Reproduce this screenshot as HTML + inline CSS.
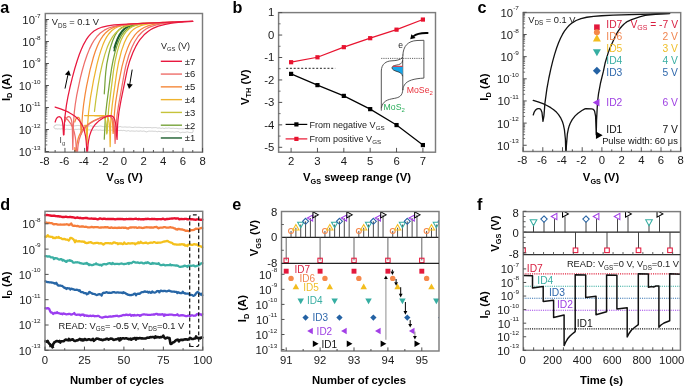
<!DOCTYPE html>
<html><head><meta charset="utf-8"><style>
html,body{margin:0;padding:0;background:#fff;}
svg{display:block;filter:blur(0.4px);}
text{font-family:"Liberation Sans",sans-serif;}
</style></head><body>
<svg width="685" height="388" viewBox="0 0 685 388">
<rect width="685" height="388" fill="#fff"/>
<text transform="translate(0.2,12.5)" font-size="16.2" text-anchor="start" fill="#000" font-weight="bold" >a</text>
<text transform="translate(232.6,12.6)" font-size="16.2" text-anchor="start" fill="#000" font-weight="bold" >b</text>
<text transform="translate(477.5,12.6)" font-size="16.2" text-anchor="start" fill="#000" font-weight="bold" >c</text>
<text transform="translate(0.2,210.1)" font-size="16.2" text-anchor="start" fill="#000" font-weight="bold" >d</text>
<text transform="translate(232.3,210.2)" font-size="16.2" text-anchor="start" fill="#000" font-weight="bold" >e</text>
<text transform="translate(477,210)" font-size="16.2" text-anchor="start" fill="#000" font-weight="bold" >f</text>
<defs><clipPath id="cpa"><rect x="45.3" y="13.5" width="157.2" height="138.7"/></clipPath></defs>
<g clip-path="url(#cpa)">
<path d="M55.13,125.25 L56,125.03 L56.86,124.82 L57.73,124.93 L58.59,124.97 L59.46,124.96 L60.32,125.2 L61.19,125.23 L62.05,125.18 L62.92,125.35 L63.79,125.31 L64.65,125.02 L65.52,125.04 L66.38,125.34 L67.25,125.43 L68.11,125.27 L68.98,125.2 L69.84,125.27 L70.71,125.44 L71.58,125.49 L72.44,125.46 L73.31,125.71 L74.17,125.86 L75.04,125.82 L75.9,125.74 L76.77,125.57 L77.63,125.49 L78.5,125.48 L79.36,125.62 L80.23,125.73 L81.1,125.64 L81.96,125.58 L82.83,125.57 L83.69,125.56 L84.56,125.65 L85.42,125.71 L86.29,125.72 L87.15,126.01 L88.02,126.32 L88.89,126.23 L89.75,125.95 L90.62,125.78 L91.48,125.98 L92.35,126.3 L93.21,126.19 L94.08,126.03 L94.94,126.3 L95.81,126.56 L96.68,126.45 L97.54,126.36 L98.41,126.31 L99.27,126.13 L100.14,126.03 L101,126.13 L101.87,126.32 L102.73,126.52 L103.6,126.66 L104.47,126.67 L105.33,126.64 L106.2,126.57 L107.06,126.54 L107.93,126.71 L108.79,126.7 L109.66,126.59 L110.52,126.63 L111.39,126.73 L112.26,126.95 L113.12,127.21 L113.99,127.07 L114.85,126.52 L115.72,126.31 L116.58,126.55 L117.45,126.84 L118.31,127 L119.18,126.78 L120.05,126.5 L120.91,126.72 L121.78,127.04 L122.64,127.1 L123.51,127.08 L124.37,126.98 L125.24,126.96 L126.1,127.07 L126.97,127.15 L127.83,127.15 L128.7,127.07 L129.57,127.04 L130.43,127.16 L131.3,127.32 L132.16,127.51 L133.03,127.54 L133.89,127.35 L134.76,127.16 L135.62,127.18 L136.49,127.34 L137.36,127.36 L138.22,127.31 L139.09,127.31 L139.95,127.37 L140.82,127.47 L141.68,127.55 L142.55,127.7 L143.41,127.74 L144.28,127.58 L145.15,127.43 L146.01,127.58 L146.88,127.67 L147.74,127.51 L148.61,127.53 L149.47,127.54 L150.34,127.5 L151.2,127.74 L152.07,127.86 L152.94,127.73 L153.8,127.67 L154.67,127.63 L155.53,127.59 L156.4,127.69 L157.26,127.99 L158.13,128.09 L158.99,127.91 L159.86,127.95 L160.73,128.33 L161.59,128.32 L162.46,128 L163.32,128.27 L164.19,128.52 L165.05,128.22 L165.92,128.04 L166.78,128.2 L167.65,128.19 L168.52,127.99 L169.38,128.02 L170.25,128.33 L171.11,128.43 L171.98,128.32 L172.84,128.28 L173.71,128.28 L174.57,128.43 L175.44,128.48 L176.3,128.4 L177.17,128.51 L178.04,128.7 L178.9,128.77 L179.77,128.71 L180.63,128.64 L181.5,128.67 L182.36,128.75 L183.23,128.79 L184.09,128.77 L184.96,128.48 L185.83,128.35 L186.69,128.89 L187.56,129.27 L188.42,129.04 L189.29,128.82 L190.15,128.79 L191.02,128.82 L191.88,128.77 L192.75,128.71 L193.2,130.8 L192.75,132.48 L191.88,132.62 L191.02,132.56 L190.15,132.55 L189.29,132.54 L188.42,132.26 L187.56,131.95 L186.69,132.03 L185.83,132.27 L184.96,132.38 L184.09,132.43 L183.23,132.31 L182.36,132.29 L181.5,132.49 L180.63,132.72 L179.77,132.56 L178.9,131.85 L178.04,131.57 L177.17,131.72 L176.3,131.74 L175.44,131.92 L174.57,132.13 L173.71,132 L172.84,131.82 L171.98,131.92 L171.11,131.98 L170.25,131.84 L169.38,131.65 L168.52,131.62 L167.65,131.57 L166.78,131.54 L165.92,131.7 L165.05,131.71 L164.19,131.86 L163.32,132.04 L162.46,131.94 L161.59,131.75 L160.73,131.63 L159.86,131.55 L158.99,131.3 L158.13,131.43 L157.26,131.77 L156.4,131.51 L155.53,131.24 L154.67,131.29 L153.8,131.3 L152.94,131.22 L152.07,131.14 L151.2,131.17 L150.34,131.2 L149.47,131.14 L148.61,131.18 L147.74,131.47 L146.88,131.86 L146.01,131.84 L145.15,131.44 L144.28,131.16 L143.41,131.06 L142.55,131.24 L141.68,131.18 L140.82,130.92 L139.95,131.08 L139.09,131.18 L138.22,131.2 L137.36,131.1 L136.49,130.93 L135.62,131.11 L134.76,131.18 L133.89,131.1 L133.03,131.08 L132.16,130.97 L131.3,130.95 L130.43,131.16 L129.57,131.07 L128.7,130.67 L127.83,130.72 L126.97,131.04 L126.1,131.01 L125.24,130.78 L124.37,130.5 L123.51,130.39 L122.64,130.61 L121.78,130.47 L120.91,130.3 L120.05,130.56 L119.18,130.54 L118.31,130.45 L117.45,130.56 L116.58,130.58 L115.72,130.53 L114.85,130.6 L113.99,130.49 L113.12,130.18 L112.26,130.18 L111.39,130.17 L110.52,130.05 L109.66,130.23 L108.79,130.35 L107.93,130.25 L107.06,130.04 L106.2,129.93 L105.33,130.17 L104.47,130.28 L103.6,130.25 L102.73,130.39 L101.87,130.35 L101,130.14 L100.14,130.02 L99.27,130.09 L98.41,130.23 L97.54,130.09 L96.68,129.9 L95.81,130 L94.94,130.08 L94.08,130.1 L93.21,130.33 L92.35,130.2 L91.48,129.8 L90.62,129.83 L89.75,129.93 L88.89,129.91 L88.02,129.8 L87.15,129.7 L86.29,129.91 L85.42,130.07 L84.56,129.93 L83.69,129.56 L82.83,129.47 L81.96,129.83 L81.1,129.79 L80.23,129.46 L79.36,129.24 L78.5,129.2 L77.63,129.33 L76.77,129.42 L75.9,129.36 L75.04,129.32 L74.17,129.43 L73.31,129.38 L72.44,129.27 L71.58,129.28 L70.71,129.37 L69.84,129.51 L68.98,129.4 L68.11,129.27 L67.25,129.26 L66.38,129.15 L65.52,129.38 L64.65,129.7 L63.79,129.44 L62.92,129 L62.05,128.81 L61.19,128.9 L60.32,129.05 L59.46,128.86 L58.59,128.85 L57.73,129.02 L56.86,128.82 L56,128.8 L55.13,128.94 L53.6,127 L55.13,125.25" fill="none" stroke="#b5b5b5" stroke-width="0.65" stroke-linejoin="round" stroke-linecap="round" />
<path d="M114.11,48.06 L115.58,43.34 L117.55,38.3 L119.52,34.46 L121.97,30.98 L124.43,28.58 L126.89,26.94 L129.84,25.64 L133.77,24.59" fill="none" stroke="#1c5e2e" stroke-width="1.5" stroke-linejoin="round" stroke-linecap="round" />
<path d="M114.11,50.8 L115.58,45.62 L117.55,40.05 L119.52,35.78 L121.97,31.88 L124.43,29.19 L126.89,27.34 L129.84,25.88 L133.77,24.72" fill="none" stroke="#1c5e2e" stroke-width="1.5" stroke-linejoin="round" stroke-linecap="round" />
<path d="M104.28,93.81 L105.26,78.17 L105.75,72.26 L106.74,64.08 L108.7,54.39 L110.67,46.68 L112.64,40.7 L115.09,35.21 L117.06,32.07 L119.03,29.77 L121.48,27.75 L124.43,26.18 L127.38,25.19 L131.31,24.4 L136.23,23.84 L143.6,23.34" fill="none" stroke="#77a33a" stroke-width="1.25" stroke-linejoin="round" stroke-linecap="round" />
<path d="M104.28,139.18 L105.26,119.1 L105.75,113.01 L106.74,104 L110.18,77.93 L111.65,67.93 L113.13,60.15 L115.09,51.85 L117.06,45.33 L119.03,40.24 L121.48,35.47 L123.94,32.03 L126.89,29.16 L129.84,27.23 L133.77,25.59 L138.19,24.5 L143.6,23.72" fill="none" stroke="#77a33a" stroke-width="1.25" stroke-linejoin="round" stroke-linecap="round" />
<path d="M94.45,111.4 L95.92,99.54 L97.89,86.29 L99.86,75.24 L102.31,63.82 L104.77,54.64 L107.23,47.37 L109.69,41.7 L112.64,36.57 L115.58,32.86 L118.53,30.2 L121.97,28.02 L125.91,26.37 L130.33,25.19 L136.23,24.23 L143.11,23.56 L153.43,22.93" fill="none" stroke="#c6c33a" stroke-width="1.25" stroke-linejoin="round" stroke-linecap="round" />
<path d="M94.45,115.57 L101.33,115.79 L103.3,116.43 L104.28,117.31 L105.26,119.26 L105.75,121.19 L106.25,124.72 L106.74,133.96 L107.23,132.22 L107.72,120.36 L108.7,108.67 L113.62,69.6 L115.09,61.18 L117.06,52.44 L119.02,45.6 L120.99,40.3 L123.45,35.37 L125.91,31.85 L128.85,28.94 L131.8,27.02 L135.74,25.4 L140.16,24.34 L145.57,23.59 L153.43,22.97" fill="none" stroke="#c6c33a" stroke-width="1.25" stroke-linejoin="round" stroke-linecap="round" />
<path d="M84.62,125.91 L85.11,125.2 L85.6,125.64 L86.09,127.65 L86.59,133.38 L87.08,144.32 L87.57,125.53 L88.55,112.48 L90.52,97.36 L93.47,80.59 L96.91,64.7 L98.87,57.11 L100.84,50.59 L102.81,45.1 L104.77,40.57 L106.74,36.9 L108.7,33.98 L111.65,30.71 L114.6,28.47 L118.53,26.56 L122.96,25.3 L127.87,24.49 L134.75,23.84 L163.26,22.43" fill="none" stroke="#efb32e" stroke-width="1.25" stroke-linejoin="round" stroke-linecap="round" />
<path d="M84.62,115.56 L103.3,115.67 L105.75,116.11 L107.23,117.08 L108.21,118.73 L108.7,120.29 L109.19,123 L109.69,128.8 L110.18,146.61 L110.67,123.44 L111.16,115.64 L112.14,105.64 L113.62,94.3 L116.57,73.68 L118.53,62.51 L121.48,50.88 L124.43,42.53 L126.89,37.47 L129.84,33.07 L131.31,31.4 L133.28,29.59 L135.24,28.17 L137.21,27.05 L141.63,25.31 L147.04,24.08 L153.92,23.21 L163.26,22.54" fill="none" stroke="#efb32e" stroke-width="1.25" stroke-linejoin="round" stroke-linecap="round" />
<path d="M74.79,121.95 L75.77,119.21 L76.76,117.82 L77.74,117.27 L78.23,117.29 L78.72,117.54 L79.21,118.12 L79.7,119.16 L80.2,121.01 L80.69,124.57 L81.18,134.19 L81.67,130.94 L82.16,119.43 L82.65,113.06 L83.64,104.24 L85.11,94.33 L86.59,86.02 L90.03,69.8 L93.47,56.98 L95.43,51.02 L97.4,45.99 L99.36,41.78 L101.33,38.31 L103.3,35.47 L105.75,32.66 L109.19,29.81 L113.13,27.66 L117.55,26.14 L122.96,25.03 L128.85,24.31 L137.21,23.69 L173.09,22.01" fill="none" stroke="#f5883a" stroke-width="1.25" stroke-linejoin="round" stroke-linecap="round" />
<path d="M74.79,147.63 L75.28,164.7 L76.26,148.75 L76.76,144.88 L78.23,138.25 L79.21,135.51 L80.69,132.46 L82.16,130.16 L83.64,128.3 L85.6,126.29 L88.06,124.24 L91.01,122.26 L93.96,120.62 L100.84,117.63 L104.77,116.3 L107.72,115.65 L108.7,115.62 L109.69,115.84 L110.67,116.55 L111.65,118.38 L112.14,120.28 L112.64,123.84 L113.13,133.38 L113.62,129.29 L114.11,117.91 L114.6,111.51 L115.58,102.6 L118.53,83.96 L121.97,66.62 L124.92,55.64 L127.87,47.38 L129.35,44.03 L131.31,40.25 L134.75,35.15 L137.7,31.95 L140.65,29.57 L144.09,27.53 L148.02,25.89 L152.45,24.64 L157.85,23.64 L164.24,22.88 L173.09,22.2" fill="none" stroke="#f5883a" stroke-width="1.25" stroke-linejoin="round" stroke-linecap="round" />
<path d="M64.96,121.87 L65.45,120.24 L66.43,118.22 L67.42,117.11 L68.4,116.6 L69.38,116.65 L70.37,117.46 L71.35,119.77 L71.84,122.23 L72.33,127.14 L72.82,149.55 L73.32,126.16 L74.3,112.2 L75.28,104.26 L76.76,95.17 L80.2,78.6 L82.16,70.74 L84.62,62.18 L87.08,54.93 L89.53,48.87 L91.99,43.87 L94.45,39.8 L97.4,35.94 L100.35,33 L104.28,30.16 L108.7,28 L114.11,26.34 L120.99,25.09 L128.36,24.31 L138.68,23.61 L182.92,21.59" fill="none" stroke="#ee6e6a" stroke-width="1.25" stroke-linejoin="round" stroke-linecap="round" />
<path d="M64.96,117.26 L68.4,120.56 L70.86,123.88 L72.82,127.76 L74.3,132.25 L75.28,137.13 L75.77,141 L76.26,147.63 L76.76,164.7 L77.25,154.95 L77.74,148.33 L78.23,144.45 L79.21,139.57 L80.69,135.08 L82.65,131.21 L85.6,127.33 L89.53,123.82 L93.96,120.99 L99.86,118.21 L102.81,117.15 L105.75,116.37 L107.72,116.13 L109.19,116.22 L110.67,116.77 L111.65,117.6 L112.64,119.15 L113.13,120.41 L114.11,125.11 L114.6,130.51 L115.09,143.43 L116.08,124.76 L117.06,114.97 L118.53,105.41 L124.43,72.45 L125.91,65.34 L128.85,55.25 L131.8,47.48 L134.75,41.49 L138.19,36.27 L141.63,32.46 L143.6,30.77 L146.06,29.04 L148.51,27.66 L150.97,26.56 L156.38,24.82 L163.26,23.48 L171.62,22.53 L182.92,21.73" fill="none" stroke="#ee6e6a" stroke-width="1.25" stroke-linejoin="round" stroke-linecap="round" />
<path d="M55.13,122 L56.11,119.22 L56.6,118.37 L57.59,117.28 L58.57,116.77 L59.55,116.74 L60.54,117.29 L61.03,117.86 L62.01,120.07 L62.5,122.18 L62.99,125.9 L63.49,134.98 L63.98,134.7 L64.47,122.71 L64.96,116.56 L66.43,105.16 L67.91,96.98 L69.87,87.77 L72.33,77.6 L74.79,68.53 L77.25,60.46 L79.21,54.76 L81.18,49.73 L83.64,44.35 L86.09,39.95 L88.55,36.41 L91.01,33.62 L93.96,31.07 L97.89,28.72 L102.31,27.04 L107.72,25.81 L114.11,24.98 L131.8,23.83 L192.75,21.16" fill="none" stroke="#e8183e" stroke-width="1.25" stroke-linejoin="round" stroke-linecap="round" />
<path d="M55.13,107.05 L60.54,108.82 L64.96,110.56 L68.89,112.43 L72.33,114.44 L75.28,116.57 L77.74,118.8 L79.7,121.06 L81.67,124.02 L83.15,127.06 L84.13,129.81 L85.6,136.43 L86.09,140.31 L86.59,146.93 L87.08,164.7 L87.57,151.3 L88.06,144.68 L88.55,140.8 L89.53,135.92 L91.01,131.43 L92.98,127.56 L95.43,124.24 L98.38,121.36 L102.81,118.29 L105.26,117.03 L107.72,116.11 L109.19,115.78 L110.67,115.72 L112.14,116.12 L113.13,116.82 L114.11,118.19 L114.6,119.29 L115.58,123.3 L116.08,127.2 L116.57,135.34 L117.06,139.37 L117.55,125.86 L118.04,119.57 L119.02,111.51 L120.99,100.39 L127.38,69.18 L129.35,62.06 L132.79,52.78 L136.23,45.6 L138.19,42.27 L140.16,39.4 L144.09,34.82 L148.02,31.44 L150.48,29.79 L152.94,28.42 L158.34,26.17 L164.24,24.54 L171.62,23.23 L180.46,22.24 L192.75,21.36" fill="none" stroke="#e8183e" stroke-width="1.25" stroke-linejoin="round" stroke-linecap="round" />
</g>
<rect x="45.3" y="13.5" width="157.2" height="138.7" fill="none" stroke="#7c7c7c" stroke-width="1.45"/>
<line x1="45.3" y1="152.2" x2="45.3" y2="147.9" stroke="#444" stroke-width="0.9" />
<line x1="64.96" y1="152.2" x2="64.96" y2="147.9" stroke="#444" stroke-width="0.9" />
<line x1="84.62" y1="152.2" x2="84.62" y2="147.9" stroke="#444" stroke-width="0.9" />
<line x1="104.28" y1="152.2" x2="104.28" y2="147.9" stroke="#444" stroke-width="0.9" />
<line x1="123.94" y1="152.2" x2="123.94" y2="147.9" stroke="#444" stroke-width="0.9" />
<line x1="143.6" y1="152.2" x2="143.6" y2="147.9" stroke="#444" stroke-width="0.9" />
<line x1="163.26" y1="152.2" x2="163.26" y2="147.9" stroke="#444" stroke-width="0.9" />
<line x1="182.92" y1="152.2" x2="182.92" y2="147.9" stroke="#444" stroke-width="0.9" />
<line x1="202.58" y1="152.2" x2="202.58" y2="147.9" stroke="#444" stroke-width="0.9" />
<line x1="55.13" y1="152.2" x2="55.13" y2="150" stroke="#444" stroke-width="0.9" />
<line x1="74.79" y1="152.2" x2="74.79" y2="150" stroke="#444" stroke-width="0.9" />
<line x1="94.45" y1="152.2" x2="94.45" y2="150" stroke="#444" stroke-width="0.9" />
<line x1="114.11" y1="152.2" x2="114.11" y2="150" stroke="#444" stroke-width="0.9" />
<line x1="133.77" y1="152.2" x2="133.77" y2="150" stroke="#444" stroke-width="0.9" />
<line x1="153.43" y1="152.2" x2="153.43" y2="150" stroke="#444" stroke-width="0.9" />
<line x1="173.09" y1="152.2" x2="173.09" y2="150" stroke="#444" stroke-width="0.9" />
<line x1="192.75" y1="152.2" x2="192.75" y2="150" stroke="#444" stroke-width="0.9" />
<text transform="translate(44.5,164.6) scale(1.08,1)" font-size="10.5" text-anchor="middle" fill="#1a1a1a" font-weight="normal" >-8</text>
<text transform="translate(64.16,164.6) scale(1.08,1)" font-size="10.5" text-anchor="middle" fill="#1a1a1a" font-weight="normal" >-6</text>
<text transform="translate(83.82,164.6) scale(1.08,1)" font-size="10.5" text-anchor="middle" fill="#1a1a1a" font-weight="normal" >-4</text>
<text transform="translate(103.48,164.6) scale(1.08,1)" font-size="10.5" text-anchor="middle" fill="#1a1a1a" font-weight="normal" >-2</text>
<text transform="translate(123.94,164.6) scale(1.08,1)" font-size="10.5" text-anchor="middle" fill="#1a1a1a" font-weight="normal" >0</text>
<text transform="translate(143.6,164.6) scale(1.08,1)" font-size="10.5" text-anchor="middle" fill="#1a1a1a" font-weight="normal" >2</text>
<text transform="translate(163.26,164.6) scale(1.08,1)" font-size="10.5" text-anchor="middle" fill="#1a1a1a" font-weight="normal" >4</text>
<text transform="translate(182.92,164.6) scale(1.08,1)" font-size="10.5" text-anchor="middle" fill="#1a1a1a" font-weight="normal" >6</text>
<text transform="translate(202.58,164.6) scale(1.08,1)" font-size="10.5" text-anchor="middle" fill="#1a1a1a" font-weight="normal" >8</text>
<line x1="45.3" y1="151.5" x2="48.9" y2="151.5" stroke="#505050" stroke-width="1" />
<line x1="45.3" y1="144.88" x2="47.3" y2="144.88" stroke="#505050" stroke-width="0.8" />
<line x1="45.3" y1="141" x2="47.3" y2="141" stroke="#505050" stroke-width="0.8" />
<line x1="45.3" y1="138.25" x2="47.3" y2="138.25" stroke="#505050" stroke-width="0.8" />
<line x1="45.3" y1="136.12" x2="47.3" y2="136.12" stroke="#505050" stroke-width="0.8" />
<line x1="45.3" y1="134.38" x2="47.3" y2="134.38" stroke="#505050" stroke-width="0.8" />
<line x1="45.3" y1="132.91" x2="47.3" y2="132.91" stroke="#505050" stroke-width="0.8" />
<line x1="45.3" y1="131.63" x2="47.3" y2="131.63" stroke="#505050" stroke-width="0.8" />
<line x1="45.3" y1="130.51" x2="47.3" y2="130.51" stroke="#505050" stroke-width="0.8" />
<text transform="translate(40.6,155.9) scale(1.08,1)" font-size="10.5" text-anchor="end" fill="#1a1a1a">10<tspan font-size="5.9" dy="-6.4">-13</tspan></text>
<line x1="45.3" y1="129.5" x2="48.9" y2="129.5" stroke="#505050" stroke-width="1" />
<line x1="45.3" y1="122.88" x2="47.3" y2="122.88" stroke="#505050" stroke-width="0.8" />
<line x1="45.3" y1="119" x2="47.3" y2="119" stroke="#505050" stroke-width="0.8" />
<line x1="45.3" y1="116.25" x2="47.3" y2="116.25" stroke="#505050" stroke-width="0.8" />
<line x1="45.3" y1="114.12" x2="47.3" y2="114.12" stroke="#505050" stroke-width="0.8" />
<line x1="45.3" y1="112.38" x2="47.3" y2="112.38" stroke="#505050" stroke-width="0.8" />
<line x1="45.3" y1="110.91" x2="47.3" y2="110.91" stroke="#505050" stroke-width="0.8" />
<line x1="45.3" y1="109.63" x2="47.3" y2="109.63" stroke="#505050" stroke-width="0.8" />
<line x1="45.3" y1="108.51" x2="47.3" y2="108.51" stroke="#505050" stroke-width="0.8" />
<text transform="translate(40.6,133.9) scale(1.08,1)" font-size="10.5" text-anchor="end" fill="#1a1a1a">10<tspan font-size="5.9" dy="-6.4">-12</tspan></text>
<line x1="45.3" y1="107.5" x2="48.9" y2="107.5" stroke="#505050" stroke-width="1" />
<line x1="45.3" y1="100.88" x2="47.3" y2="100.88" stroke="#505050" stroke-width="0.8" />
<line x1="45.3" y1="97" x2="47.3" y2="97" stroke="#505050" stroke-width="0.8" />
<line x1="45.3" y1="94.25" x2="47.3" y2="94.25" stroke="#505050" stroke-width="0.8" />
<line x1="45.3" y1="92.12" x2="47.3" y2="92.12" stroke="#505050" stroke-width="0.8" />
<line x1="45.3" y1="90.38" x2="47.3" y2="90.38" stroke="#505050" stroke-width="0.8" />
<line x1="45.3" y1="88.91" x2="47.3" y2="88.91" stroke="#505050" stroke-width="0.8" />
<line x1="45.3" y1="87.63" x2="47.3" y2="87.63" stroke="#505050" stroke-width="0.8" />
<line x1="45.3" y1="86.51" x2="47.3" y2="86.51" stroke="#505050" stroke-width="0.8" />
<text transform="translate(40.6,111.9) scale(1.08,1)" font-size="10.5" text-anchor="end" fill="#1a1a1a">10<tspan font-size="5.9" dy="-6.4">-11</tspan></text>
<line x1="45.3" y1="85.5" x2="48.9" y2="85.5" stroke="#505050" stroke-width="1" />
<line x1="45.3" y1="78.88" x2="47.3" y2="78.88" stroke="#505050" stroke-width="0.8" />
<line x1="45.3" y1="75" x2="47.3" y2="75" stroke="#505050" stroke-width="0.8" />
<line x1="45.3" y1="72.25" x2="47.3" y2="72.25" stroke="#505050" stroke-width="0.8" />
<line x1="45.3" y1="70.12" x2="47.3" y2="70.12" stroke="#505050" stroke-width="0.8" />
<line x1="45.3" y1="68.38" x2="47.3" y2="68.38" stroke="#505050" stroke-width="0.8" />
<line x1="45.3" y1="66.91" x2="47.3" y2="66.91" stroke="#505050" stroke-width="0.8" />
<line x1="45.3" y1="65.63" x2="47.3" y2="65.63" stroke="#505050" stroke-width="0.8" />
<line x1="45.3" y1="64.51" x2="47.3" y2="64.51" stroke="#505050" stroke-width="0.8" />
<text transform="translate(40.6,89.9) scale(1.08,1)" font-size="10.5" text-anchor="end" fill="#1a1a1a">10<tspan font-size="5.9" dy="-6.4">-10</tspan></text>
<line x1="45.3" y1="63.5" x2="48.9" y2="63.5" stroke="#505050" stroke-width="1" />
<line x1="45.3" y1="56.88" x2="47.3" y2="56.88" stroke="#505050" stroke-width="0.8" />
<line x1="45.3" y1="53" x2="47.3" y2="53" stroke="#505050" stroke-width="0.8" />
<line x1="45.3" y1="50.25" x2="47.3" y2="50.25" stroke="#505050" stroke-width="0.8" />
<line x1="45.3" y1="48.12" x2="47.3" y2="48.12" stroke="#505050" stroke-width="0.8" />
<line x1="45.3" y1="46.38" x2="47.3" y2="46.38" stroke="#505050" stroke-width="0.8" />
<line x1="45.3" y1="44.91" x2="47.3" y2="44.91" stroke="#505050" stroke-width="0.8" />
<line x1="45.3" y1="43.63" x2="47.3" y2="43.63" stroke="#505050" stroke-width="0.8" />
<line x1="45.3" y1="42.51" x2="47.3" y2="42.51" stroke="#505050" stroke-width="0.8" />
<text transform="translate(40.6,67.9) scale(1.08,1)" font-size="10.5" text-anchor="end" fill="#1a1a1a">10<tspan font-size="5.9" dy="-6.4">-9</tspan></text>
<line x1="45.3" y1="41.5" x2="48.9" y2="41.5" stroke="#505050" stroke-width="1" />
<line x1="45.3" y1="34.88" x2="47.3" y2="34.88" stroke="#505050" stroke-width="0.8" />
<line x1="45.3" y1="31" x2="47.3" y2="31" stroke="#505050" stroke-width="0.8" />
<line x1="45.3" y1="28.25" x2="47.3" y2="28.25" stroke="#505050" stroke-width="0.8" />
<line x1="45.3" y1="26.12" x2="47.3" y2="26.12" stroke="#505050" stroke-width="0.8" />
<line x1="45.3" y1="24.38" x2="47.3" y2="24.38" stroke="#505050" stroke-width="0.8" />
<line x1="45.3" y1="22.91" x2="47.3" y2="22.91" stroke="#505050" stroke-width="0.8" />
<line x1="45.3" y1="21.63" x2="47.3" y2="21.63" stroke="#505050" stroke-width="0.8" />
<line x1="45.3" y1="20.51" x2="47.3" y2="20.51" stroke="#505050" stroke-width="0.8" />
<text transform="translate(40.6,45.9) scale(1.08,1)" font-size="10.5" text-anchor="end" fill="#1a1a1a">10<tspan font-size="5.9" dy="-6.4">-8</tspan></text>
<line x1="45.3" y1="19.5" x2="48.9" y2="19.5" stroke="#505050" stroke-width="1" />
<text transform="translate(40.6,23.9) scale(1.08,1)" font-size="10.5" text-anchor="end" fill="#1a1a1a">10<tspan font-size="5.9" dy="-6.4">-7</tspan></text>
<text transform="translate(124.5,181.3)" font-size="11.3" text-anchor="middle" fill="#000" font-weight="bold" >V<tspan font-size="7.3" dy="2.5">GS</tspan><tspan dy="-2.5"> (V)</tspan></text>
<text transform="translate(9.6,87.4) rotate(-90)" font-size="11.3" text-anchor="middle" fill="#000" font-weight="bold" >I<tspan font-size="7.3" dy="2.5">D</tspan><tspan dy="-2.5"> (A)</tspan></text>
<text transform="translate(51.8,25.4)" font-size="9.3" text-anchor="start" fill="#1a1a1a" font-weight="normal" >V<tspan font-size="6.3" dy="2.2">DS</tspan><tspan dy="-2.2"> = 0.1 V</tspan></text>
<text transform="translate(161,49)" font-size="9" text-anchor="start" fill="#1a1a1a" font-weight="normal" >V<tspan font-size="5.8" dy="2">GS</tspan><tspan dy="-2"> (V)</tspan></text>
<line x1="160.8" y1="61.3" x2="182" y2="61.3" stroke="#e8183e" stroke-width="1.4" />
<text transform="translate(184.8,64.7)" font-size="9.5" text-anchor="start" fill="#1a1a1a" font-weight="normal" >±7</text>
<line x1="160.8" y1="74.08" x2="182" y2="74.08" stroke="#ee6e6a" stroke-width="1.4" />
<text transform="translate(184.8,77.48)" font-size="9.5" text-anchor="start" fill="#1a1a1a" font-weight="normal" >±6</text>
<line x1="160.8" y1="86.86" x2="182" y2="86.86" stroke="#f5883a" stroke-width="1.4" />
<text transform="translate(184.8,90.26)" font-size="9.5" text-anchor="start" fill="#1a1a1a" font-weight="normal" >±5</text>
<line x1="160.8" y1="99.64" x2="182" y2="99.64" stroke="#efb32e" stroke-width="1.4" />
<text transform="translate(184.8,103.04)" font-size="9.5" text-anchor="start" fill="#1a1a1a" font-weight="normal" >±4</text>
<line x1="160.8" y1="112.42" x2="182" y2="112.42" stroke="#c6c33a" stroke-width="1.4" />
<text transform="translate(184.8,115.82)" font-size="9.5" text-anchor="start" fill="#1a1a1a" font-weight="normal" >±3</text>
<line x1="160.8" y1="125.2" x2="182" y2="125.2" stroke="#77a33a" stroke-width="1.4" />
<text transform="translate(184.8,128.6)" font-size="9.5" text-anchor="start" fill="#1a1a1a" font-weight="normal" >±2</text>
<line x1="160.8" y1="137.98" x2="182" y2="137.98" stroke="#1c5e2e" stroke-width="1.4" />
<text transform="translate(184.8,141.38)" font-size="9.5" text-anchor="start" fill="#1a1a1a" font-weight="normal" >±1</text>
<line x1="65" y1="88.6" x2="67.86" y2="75.09" stroke="#000" stroke-width="1.0" />
<path d="M68.9,70.2 L70.8,75.71 L64.93,74.47 Z" fill="#000"/>
<line x1="132.2" y1="69.6" x2="129.82" y2="83.97" stroke="#000" stroke-width="1.0" />
<path d="M129,88.9 L126.86,83.48 L132.78,84.46 Z" fill="#000"/>
<text transform="translate(59.6,143.3)" font-size="8.3" text-anchor="start" fill="#444" font-weight="normal" >I<tspan font-size="5.8" dy="2">g</tspan></text>
<line x1="286.2" y1="68.3" x2="335.2" y2="68.3" stroke="#222" stroke-width="1.0" stroke-dasharray="2 1.75"/>
<path d="M291.1,73.89 L317.46,85.11 L343.82,95.89 L370.18,109.13 L396.54,125.07 L422.9,145.06" fill="none" stroke="#000" stroke-width="1.2" stroke-linejoin="round" stroke-linecap="round" />
<path d="M291.1,62.21 L317.46,57.28 L343.82,47.17 L370.18,38.19 L396.54,29.66 L422.9,19.56" fill="none" stroke="#e8132f" stroke-width="1.2" stroke-linejoin="round" stroke-linecap="round" />
<rect x="289" y="71.79" width="4.2" height="4.2" fill="#000"/>
<rect x="315.36" y="83.01" width="4.2" height="4.2" fill="#000"/>
<rect x="341.72" y="93.79" width="4.2" height="4.2" fill="#000"/>
<rect x="368.08" y="107.03" width="4.2" height="4.2" fill="#000"/>
<rect x="394.44" y="122.97" width="4.2" height="4.2" fill="#000"/>
<rect x="420.8" y="142.96" width="4.2" height="4.2" fill="#000"/>
<rect x="289" y="60.11" width="4.2" height="4.2" fill="#e8132f"/>
<rect x="315.36" y="55.18" width="4.2" height="4.2" fill="#e8132f"/>
<rect x="341.72" y="45.07" width="4.2" height="4.2" fill="#e8132f"/>
<rect x="368.08" y="36.09" width="4.2" height="4.2" fill="#e8132f"/>
<rect x="394.44" y="27.56" width="4.2" height="4.2" fill="#e8132f"/>
<rect x="420.8" y="17.46" width="4.2" height="4.2" fill="#e8132f"/>
<line x1="285.6" y1="124.4" x2="307.3" y2="124.4" stroke="#000" stroke-width="1.2" />
<rect x="294.3" y="122.3" width="4.2" height="4.2" fill="#000"/>
<line x1="285.6" y1="138.9" x2="307.3" y2="138.9" stroke="#e8132f" stroke-width="1.2" />
<rect x="294.3" y="136.8" width="4.2" height="4.2" fill="#e8132f"/>
<text transform="translate(309.6,127.6)" font-size="9" text-anchor="start" fill="#1a1a1a" font-weight="normal" >From negative V<tspan font-size="6.2" dy="2.3">GS</tspan></text>
<text transform="translate(309.6,142.1)" font-size="9" text-anchor="start" fill="#1a1a1a" font-weight="normal" >From positive V<tspan font-size="6.2" dy="2.3">GS</tspan></text>
<path d="M381.3,110.3 L381.3,71 C381.5,64 386,61 392,60.8 C396,60.6 399.5,60.3 402.6,57.6" fill="none" stroke="#444" stroke-width="0.9" stroke-linejoin="round" stroke-linecap="round" />
<path d="M381.3,107.8 C383,101 387,99.6 394.3,98.4 C399.5,97.4 402.3,96 402.8,90" fill="none" stroke="#444" stroke-width="0.9" stroke-linejoin="round" stroke-linecap="round" />
<path d="M402.9,55 C403.2,46 408,41 417,40.5 L423.9,40.3 L423.9,78.1 C414,78.6 407,80.5 404.4,85 C403.2,87 402.9,88.5 402.8,90 L402.7,57.8" fill="none" stroke="#444" stroke-width="0.9" stroke-linejoin="round" stroke-linecap="round" />
<path d="M402.6,57.6 C402.9,56.5 403,55.6 402.9,55" fill="none" stroke="#444" stroke-width="0.9" stroke-linejoin="round" stroke-linecap="round" />
<path d="M393,66.4 L402.6,66.4 L402.6,75.6 C401.8,73.3 400,72.3 397,71.5 C394,70.6 392.2,69.5 392.2,67.8 C392.2,67.2 392.5,66.7 393,66.4 Z" fill="#16a6ea"/>
<path d="M402.6,60.8 C402.2,63.6 400,64.6 396,65.2 C393.5,65.6 392,66.5 392,67.8 C392,69.5 394,70.6 397,71.5 C400,72.3 401.8,73.3 402.5,75.8" fill="none" stroke="#222" stroke-width="0.75" stroke-linejoin="round" stroke-linecap="round" />
<line x1="392.8" y1="66.3" x2="402.6" y2="66.3" stroke="#e0242f" stroke-width="1.0" />
<line x1="381.2" y1="58.4" x2="423.9" y2="58.4" stroke="#333" stroke-width="0.8" stroke-dasharray="1.1 1.1"/>
<text transform="translate(400.7,47.6)" font-size="8.6" text-anchor="middle" fill="#222" font-weight="normal" >e</text>
<path d="M427.6,33 C421,32.8 416.5,33.6 413.3,36.4" fill="none" stroke="#000" stroke-width="1.9" stroke-linejoin="round" stroke-linecap="round" />
<path d="M410.2,39.2 L411.4,34.2 L415.6,37.9 Z" fill="#000"/>
<text transform="translate(406.8,92.8)" font-size="8.7" text-anchor="start" fill="#e8303a" font-weight="normal" >MoSe<tspan font-size="6" dy="1.8">2</tspan></text>
<text transform="translate(383.6,110.2)" font-size="8.7" text-anchor="start" fill="#2aae5a" font-weight="normal" >MoS<tspan font-size="6" dy="1.8">2</tspan></text>
<rect x="278.6" y="12.6" width="156.9" height="139.6" fill="none" stroke="#7c7c7c" stroke-width="1.45"/>
<line x1="291.1" y1="152.2" x2="291.1" y2="147.9" stroke="#444" stroke-width="0.9" />
<line x1="317.46" y1="152.2" x2="317.46" y2="147.9" stroke="#444" stroke-width="0.9" />
<line x1="343.82" y1="152.2" x2="343.82" y2="147.9" stroke="#444" stroke-width="0.9" />
<line x1="370.18" y1="152.2" x2="370.18" y2="147.9" stroke="#444" stroke-width="0.9" />
<line x1="396.54" y1="152.2" x2="396.54" y2="147.9" stroke="#444" stroke-width="0.9" />
<line x1="422.9" y1="152.2" x2="422.9" y2="147.9" stroke="#444" stroke-width="0.9" />
<text transform="translate(291.1,164.7) scale(1.08,1)" font-size="10.5" text-anchor="middle" fill="#1a1a1a" font-weight="normal" >2</text>
<text transform="translate(317.46,164.7) scale(1.08,1)" font-size="10.5" text-anchor="middle" fill="#1a1a1a" font-weight="normal" >3</text>
<text transform="translate(343.82,164.7) scale(1.08,1)" font-size="10.5" text-anchor="middle" fill="#1a1a1a" font-weight="normal" >4</text>
<text transform="translate(370.18,164.7) scale(1.08,1)" font-size="10.5" text-anchor="middle" fill="#1a1a1a" font-weight="normal" >5</text>
<text transform="translate(396.54,164.7) scale(1.08,1)" font-size="10.5" text-anchor="middle" fill="#1a1a1a" font-weight="normal" >6</text>
<text transform="translate(422.9,164.7) scale(1.08,1)" font-size="10.5" text-anchor="middle" fill="#1a1a1a" font-weight="normal" >7</text>
<line x1="278.6" y1="147.3" x2="282.2" y2="147.3" stroke="#505050" stroke-width="1" />
<text transform="translate(274.3,151.1) scale(1.08,1)" font-size="10.5" text-anchor="end" fill="#1a1a1a" font-weight="normal" >-5</text>
<line x1="278.6" y1="124.85" x2="282.2" y2="124.85" stroke="#505050" stroke-width="1" />
<text transform="translate(274.3,128.65) scale(1.08,1)" font-size="10.5" text-anchor="end" fill="#1a1a1a" font-weight="normal" >-4</text>
<line x1="278.6" y1="102.4" x2="282.2" y2="102.4" stroke="#505050" stroke-width="1" />
<text transform="translate(274.3,106.2) scale(1.08,1)" font-size="10.5" text-anchor="end" fill="#1a1a1a" font-weight="normal" >-3</text>
<line x1="278.6" y1="79.95" x2="282.2" y2="79.95" stroke="#505050" stroke-width="1" />
<text transform="translate(274.3,83.75) scale(1.08,1)" font-size="10.5" text-anchor="end" fill="#1a1a1a" font-weight="normal" >-2</text>
<line x1="278.6" y1="57.5" x2="282.2" y2="57.5" stroke="#505050" stroke-width="1" />
<text transform="translate(274.3,61.3) scale(1.08,1)" font-size="10.5" text-anchor="end" fill="#1a1a1a" font-weight="normal" >-1</text>
<line x1="278.6" y1="35.05" x2="282.2" y2="35.05" stroke="#505050" stroke-width="1" />
<text transform="translate(274.3,38.85) scale(1.08,1)" font-size="10.5" text-anchor="end" fill="#1a1a1a" font-weight="normal" >0</text>
<line x1="278.6" y1="12.6" x2="282.2" y2="12.6" stroke="#505050" stroke-width="1" />
<text transform="translate(274.3,16.4) scale(1.08,1)" font-size="10.5" text-anchor="end" fill="#1a1a1a" font-weight="normal" >1</text>
<line x1="278.6" y1="136.07" x2="280.6" y2="136.07" stroke="#505050" stroke-width="0.8" />
<line x1="278.6" y1="113.62" x2="280.6" y2="113.62" stroke="#505050" stroke-width="0.8" />
<line x1="278.6" y1="91.17" x2="280.6" y2="91.17" stroke="#505050" stroke-width="0.8" />
<line x1="278.6" y1="68.72" x2="280.6" y2="68.72" stroke="#505050" stroke-width="0.8" />
<line x1="278.6" y1="46.27" x2="280.6" y2="46.27" stroke="#505050" stroke-width="0.8" />
<line x1="278.6" y1="23.82" x2="280.6" y2="23.82" stroke="#505050" stroke-width="0.8" />
<text transform="translate(357,181.3)" font-size="11.3" text-anchor="middle" fill="#000" font-weight="bold" >V<tspan font-size="7.3" dy="2.5">GS</tspan><tspan dy="-2.5"> sweep range (V)</tspan></text>
<text transform="translate(248.6,87.2) rotate(-90)" font-size="11.3" text-anchor="middle" fill="#000" font-weight="bold" >V<tspan font-size="7.3" dy="2.5">TH</tspan><tspan dy="-2.5"> (V)</tspan></text>
<defs><clipPath id="cpc"><rect x="523.1" y="12.6" width="157.6" height="138.9"/></clipPath></defs>
<g clip-path="url(#cpc)">
<path d="M533.24,114.93 L534.21,112.08 L535.19,110.47 L536.16,109.48 L537.14,108.88 L538.11,108.57 L539.08,108.54 L540.06,108.89 L541.03,109.93 L542.01,112.56 L542.98,121.46 L543.95,115.87 L544.93,103.13 L546.88,88.92 L548.82,78.25 L550.77,69.12 L552.72,61.12 L554.67,54.12 L556.62,48.02 L558.56,42.76 L560.51,38.26 L562.46,34.43 L564.41,31.21 L567.33,27.34 L569.28,25.28 L572.2,22.85 L576.1,20.51 L580.97,18.61 L586.81,17.25 L593.63,16.34 L601.42,15.75 L613.11,15.21 L669.6,13.48" fill="none" stroke="#111" stroke-width="1.3" stroke-linejoin="round" stroke-linecap="round" />
<path d="M533.24,100.3 L538.11,101.85 L542.98,103.7 L546.88,105.48 L550.77,107.68 L553.69,109.73 L556.62,112.35 L558.56,114.6 L560.51,117.54 L562.46,121.79 L563.43,124.92 L564.41,129.59 L565.38,139.02 L565.97,158.54 L566.36,146.26 L567.33,134.21 L568.3,129.03 L569.28,125.68 L570.25,123.2 L572.2,119.59 L575.12,115.89 L578.04,113.23 L581.94,110.54 L584.86,108.92 L585.84,108.63 L591.68,108.82 L592.65,109.06 L593.63,109.66 L594.6,111.21 L595.58,116.18 L596.26,134.75 L596.55,120.75 L597.52,102 L598.5,93.92 L600.45,83.27 L603.37,71.45 L605.32,62.23 L608.24,52.57 L610.19,47.55 L616.03,34.84 L617.98,31.4 L619.93,28.53 L621.87,26.21 L623.82,24.29 L625.77,22.63 L627.72,21.31 L631.61,19.58 L640.38,16.74 L645.25,15.46 L650.12,14.76 L660.83,13.77 L669.6,13.46" fill="none" stroke="#111" stroke-width="1.3" stroke-linejoin="round" stroke-linecap="round" />
</g>
<rect x="594.1" y="24.4" width="5.6" height="5.6" fill="#e3193d"/>
<circle cx="596.9" cy="32.2" r="3" fill="#f5874a"/>
<path d="M596.9,34.35 L600.9,41.39 L592.9,41.39 Z" fill="#f3bd1e" stroke-linejoin="miter"/>
<path d="M596.9,56.35 L600.9,49.31 L592.9,49.31 Z" fill="#36aea2" stroke-linejoin="miter"/>
<path d="M596.9,66.8 L600.9,70.8 L596.9,74.8 L592.9,70.8 Z" fill="#2462a4" stroke-linejoin="miter"/>
<path d="M592.75,102.6 L599.44,98.8 L599.44,106.4 Z" fill="#a23fe6" stroke-linejoin="miter"/>
<path d="M602.65,135.3 L595.96,131.5 L595.96,139.1 Z" fill="#000" stroke-linejoin="miter"/>
<text transform="translate(606.3,27.6)" font-size="10.3" text-anchor="start" fill="#d81f40" font-weight="normal" >ID7</text>
<text transform="translate(606.3,39.6)" font-size="10.3" text-anchor="start" fill="#f08550" font-weight="normal" >ID6</text>
<text transform="translate(678,39.6)" font-size="10.3" text-anchor="end" fill="#f08550" font-weight="normal" >2 V</text>
<text transform="translate(606.3,51.6)" font-size="10.3" text-anchor="start" fill="#efbf2a" font-weight="normal" >ID5</text>
<text transform="translate(678,51.6)" font-size="10.3" text-anchor="end" fill="#efbf2a" font-weight="normal" >3 V</text>
<text transform="translate(606.3,63.8)" font-size="10.3" text-anchor="start" fill="#3aaea3" font-weight="normal" >ID4</text>
<text transform="translate(678,63.8)" font-size="10.3" text-anchor="end" fill="#3aaea3" font-weight="normal" >4 V</text>
<text transform="translate(606.3,76)" font-size="10.3" text-anchor="start" fill="#2f68ac" font-weight="normal" >ID3</text>
<text transform="translate(678,76)" font-size="10.3" text-anchor="end" fill="#2f68ac" font-weight="normal" >5 V</text>
<text transform="translate(606.3,105.9)" font-size="10.3" text-anchor="start" fill="#9d3fe2" font-weight="normal" >ID2</text>
<text transform="translate(678,105.9)" font-size="10.3" text-anchor="end" fill="#9d3fe2" font-weight="normal" >6 V</text>
<text transform="translate(606.3,132.6)" font-size="10.3" text-anchor="start" fill="#111" font-weight="normal" >ID1</text>
<text transform="translate(678,132.6)" font-size="10.3" text-anchor="end" fill="#111" font-weight="normal" >7 V</text>
<text transform="translate(678,27.6)" font-size="10.3" text-anchor="end" fill="#d81f40" font-weight="normal" >V<tspan font-size="7" dy="2.4">GS</tspan><tspan dy="-2.4"> = -7 V</tspan></text>
<text transform="translate(677.8,144.3)" font-size="9.3" text-anchor="end" fill="#111" font-weight="normal" >Pulse width: 60 μs</text>
<text transform="translate(528.2,22.7)" font-size="9.3" text-anchor="start" fill="#1a1a1a" font-weight="normal" >V<tspan font-size="6.3" dy="2.2">DS</tspan><tspan dy="-2.2"> = 0.1 V</tspan></text>
<rect x="523.1" y="12.6" width="157.6" height="138.9" fill="none" stroke="#7c7c7c" stroke-width="1.45"/>
<line x1="523.1" y1="151.5" x2="523.1" y2="147.2" stroke="#444" stroke-width="0.9" />
<line x1="542.8" y1="151.5" x2="542.8" y2="147.2" stroke="#444" stroke-width="0.9" />
<line x1="562.5" y1="151.5" x2="562.5" y2="147.2" stroke="#444" stroke-width="0.9" />
<line x1="582.2" y1="151.5" x2="582.2" y2="147.2" stroke="#444" stroke-width="0.9" />
<line x1="601.9" y1="151.5" x2="601.9" y2="147.2" stroke="#444" stroke-width="0.9" />
<line x1="621.6" y1="151.5" x2="621.6" y2="147.2" stroke="#444" stroke-width="0.9" />
<line x1="641.3" y1="151.5" x2="641.3" y2="147.2" stroke="#444" stroke-width="0.9" />
<line x1="661" y1="151.5" x2="661" y2="147.2" stroke="#444" stroke-width="0.9" />
<line x1="680.7" y1="151.5" x2="680.7" y2="147.2" stroke="#444" stroke-width="0.9" />
<line x1="532.95" y1="151.5" x2="532.95" y2="149.3" stroke="#444" stroke-width="0.9" />
<line x1="552.65" y1="151.5" x2="552.65" y2="149.3" stroke="#444" stroke-width="0.9" />
<line x1="572.35" y1="151.5" x2="572.35" y2="149.3" stroke="#444" stroke-width="0.9" />
<line x1="592.05" y1="151.5" x2="592.05" y2="149.3" stroke="#444" stroke-width="0.9" />
<line x1="611.75" y1="151.5" x2="611.75" y2="149.3" stroke="#444" stroke-width="0.9" />
<line x1="631.45" y1="151.5" x2="631.45" y2="149.3" stroke="#444" stroke-width="0.9" />
<line x1="651.15" y1="151.5" x2="651.15" y2="149.3" stroke="#444" stroke-width="0.9" />
<line x1="670.85" y1="151.5" x2="670.85" y2="149.3" stroke="#444" stroke-width="0.9" />
<text transform="translate(522.3,164.3) scale(1.08,1)" font-size="10.5" text-anchor="middle" fill="#1a1a1a" font-weight="normal" >-8</text>
<text transform="translate(542,164.3) scale(1.08,1)" font-size="10.5" text-anchor="middle" fill="#1a1a1a" font-weight="normal" >-6</text>
<text transform="translate(561.7,164.3) scale(1.08,1)" font-size="10.5" text-anchor="middle" fill="#1a1a1a" font-weight="normal" >-4</text>
<text transform="translate(581.4,164.3) scale(1.08,1)" font-size="10.5" text-anchor="middle" fill="#1a1a1a" font-weight="normal" >-2</text>
<text transform="translate(601.9,164.3) scale(1.08,1)" font-size="10.5" text-anchor="middle" fill="#1a1a1a" font-weight="normal" >0</text>
<text transform="translate(621.6,164.3) scale(1.08,1)" font-size="10.5" text-anchor="middle" fill="#1a1a1a" font-weight="normal" >2</text>
<text transform="translate(641.3,164.3) scale(1.08,1)" font-size="10.5" text-anchor="middle" fill="#1a1a1a" font-weight="normal" >4</text>
<text transform="translate(661,164.3) scale(1.08,1)" font-size="10.5" text-anchor="middle" fill="#1a1a1a" font-weight="normal" >6</text>
<text transform="translate(680.7,164.3) scale(1.08,1)" font-size="10.5" text-anchor="middle" fill="#1a1a1a" font-weight="normal" >8</text>
<line x1="523.1" y1="145.25" x2="526.7" y2="145.25" stroke="#505050" stroke-width="1" />
<line x1="523.1" y1="138.58" x2="525.1" y2="138.58" stroke="#505050" stroke-width="0.8" />
<line x1="523.1" y1="134.68" x2="525.1" y2="134.68" stroke="#505050" stroke-width="0.8" />
<line x1="523.1" y1="131.91" x2="525.1" y2="131.91" stroke="#505050" stroke-width="0.8" />
<line x1="523.1" y1="129.77" x2="525.1" y2="129.77" stroke="#505050" stroke-width="0.8" />
<line x1="523.1" y1="128.01" x2="525.1" y2="128.01" stroke="#505050" stroke-width="0.8" />
<line x1="523.1" y1="126.53" x2="525.1" y2="126.53" stroke="#505050" stroke-width="0.8" />
<line x1="523.1" y1="125.25" x2="525.1" y2="125.25" stroke="#505050" stroke-width="0.8" />
<line x1="523.1" y1="124.11" x2="525.1" y2="124.11" stroke="#505050" stroke-width="0.8" />
<text transform="translate(518.8,149.65) scale(1.08,1)" font-size="10.5" text-anchor="end" fill="#1a1a1a">10<tspan font-size="5.9" dy="-6.4">-13</tspan></text>
<line x1="523.1" y1="123.1" x2="526.7" y2="123.1" stroke="#505050" stroke-width="1" />
<line x1="523.1" y1="116.43" x2="525.1" y2="116.43" stroke="#505050" stroke-width="0.8" />
<line x1="523.1" y1="112.53" x2="525.1" y2="112.53" stroke="#505050" stroke-width="0.8" />
<line x1="523.1" y1="109.76" x2="525.1" y2="109.76" stroke="#505050" stroke-width="0.8" />
<line x1="523.1" y1="107.62" x2="525.1" y2="107.62" stroke="#505050" stroke-width="0.8" />
<line x1="523.1" y1="105.86" x2="525.1" y2="105.86" stroke="#505050" stroke-width="0.8" />
<line x1="523.1" y1="104.38" x2="525.1" y2="104.38" stroke="#505050" stroke-width="0.8" />
<line x1="523.1" y1="103.1" x2="525.1" y2="103.1" stroke="#505050" stroke-width="0.8" />
<line x1="523.1" y1="101.96" x2="525.1" y2="101.96" stroke="#505050" stroke-width="0.8" />
<text transform="translate(518.8,127.5) scale(1.08,1)" font-size="10.5" text-anchor="end" fill="#1a1a1a">10<tspan font-size="5.9" dy="-6.4">-12</tspan></text>
<line x1="523.1" y1="100.95" x2="526.7" y2="100.95" stroke="#505050" stroke-width="1" />
<line x1="523.1" y1="94.28" x2="525.1" y2="94.28" stroke="#505050" stroke-width="0.8" />
<line x1="523.1" y1="90.38" x2="525.1" y2="90.38" stroke="#505050" stroke-width="0.8" />
<line x1="523.1" y1="87.61" x2="525.1" y2="87.61" stroke="#505050" stroke-width="0.8" />
<line x1="523.1" y1="85.47" x2="525.1" y2="85.47" stroke="#505050" stroke-width="0.8" />
<line x1="523.1" y1="83.71" x2="525.1" y2="83.71" stroke="#505050" stroke-width="0.8" />
<line x1="523.1" y1="82.23" x2="525.1" y2="82.23" stroke="#505050" stroke-width="0.8" />
<line x1="523.1" y1="80.95" x2="525.1" y2="80.95" stroke="#505050" stroke-width="0.8" />
<line x1="523.1" y1="79.81" x2="525.1" y2="79.81" stroke="#505050" stroke-width="0.8" />
<text transform="translate(518.8,105.35) scale(1.08,1)" font-size="10.5" text-anchor="end" fill="#1a1a1a">10<tspan font-size="5.9" dy="-6.4">-11</tspan></text>
<line x1="523.1" y1="78.8" x2="526.7" y2="78.8" stroke="#505050" stroke-width="1" />
<line x1="523.1" y1="72.13" x2="525.1" y2="72.13" stroke="#505050" stroke-width="0.8" />
<line x1="523.1" y1="68.23" x2="525.1" y2="68.23" stroke="#505050" stroke-width="0.8" />
<line x1="523.1" y1="65.46" x2="525.1" y2="65.46" stroke="#505050" stroke-width="0.8" />
<line x1="523.1" y1="63.32" x2="525.1" y2="63.32" stroke="#505050" stroke-width="0.8" />
<line x1="523.1" y1="61.56" x2="525.1" y2="61.56" stroke="#505050" stroke-width="0.8" />
<line x1="523.1" y1="60.08" x2="525.1" y2="60.08" stroke="#505050" stroke-width="0.8" />
<line x1="523.1" y1="58.8" x2="525.1" y2="58.8" stroke="#505050" stroke-width="0.8" />
<line x1="523.1" y1="57.66" x2="525.1" y2="57.66" stroke="#505050" stroke-width="0.8" />
<text transform="translate(518.8,83.2) scale(1.08,1)" font-size="10.5" text-anchor="end" fill="#1a1a1a">10<tspan font-size="5.9" dy="-6.4">-10</tspan></text>
<line x1="523.1" y1="56.65" x2="526.7" y2="56.65" stroke="#505050" stroke-width="1" />
<line x1="523.1" y1="49.98" x2="525.1" y2="49.98" stroke="#505050" stroke-width="0.8" />
<line x1="523.1" y1="46.08" x2="525.1" y2="46.08" stroke="#505050" stroke-width="0.8" />
<line x1="523.1" y1="43.31" x2="525.1" y2="43.31" stroke="#505050" stroke-width="0.8" />
<line x1="523.1" y1="41.17" x2="525.1" y2="41.17" stroke="#505050" stroke-width="0.8" />
<line x1="523.1" y1="39.41" x2="525.1" y2="39.41" stroke="#505050" stroke-width="0.8" />
<line x1="523.1" y1="37.93" x2="525.1" y2="37.93" stroke="#505050" stroke-width="0.8" />
<line x1="523.1" y1="36.65" x2="525.1" y2="36.65" stroke="#505050" stroke-width="0.8" />
<line x1="523.1" y1="35.51" x2="525.1" y2="35.51" stroke="#505050" stroke-width="0.8" />
<text transform="translate(518.8,61.05) scale(1.08,1)" font-size="10.5" text-anchor="end" fill="#1a1a1a">10<tspan font-size="5.9" dy="-6.4">-9</tspan></text>
<line x1="523.1" y1="34.5" x2="526.7" y2="34.5" stroke="#505050" stroke-width="1" />
<line x1="523.1" y1="27.83" x2="525.1" y2="27.83" stroke="#505050" stroke-width="0.8" />
<line x1="523.1" y1="23.93" x2="525.1" y2="23.93" stroke="#505050" stroke-width="0.8" />
<line x1="523.1" y1="21.16" x2="525.1" y2="21.16" stroke="#505050" stroke-width="0.8" />
<line x1="523.1" y1="19.02" x2="525.1" y2="19.02" stroke="#505050" stroke-width="0.8" />
<line x1="523.1" y1="17.26" x2="525.1" y2="17.26" stroke="#505050" stroke-width="0.8" />
<line x1="523.1" y1="15.78" x2="525.1" y2="15.78" stroke="#505050" stroke-width="0.8" />
<line x1="523.1" y1="14.5" x2="525.1" y2="14.5" stroke="#505050" stroke-width="0.8" />
<line x1="523.1" y1="13.36" x2="525.1" y2="13.36" stroke="#505050" stroke-width="0.8" />
<text transform="translate(518.8,38.9) scale(1.08,1)" font-size="10.5" text-anchor="end" fill="#1a1a1a">10<tspan font-size="5.9" dy="-6.4">-8</tspan></text>
<line x1="523.1" y1="12.35" x2="526.7" y2="12.35" stroke="#505050" stroke-width="1" />
<text transform="translate(518.8,16.75) scale(1.08,1)" font-size="10.5" text-anchor="end" fill="#1a1a1a">10<tspan font-size="5.9" dy="-6.4">-7</tspan></text>
<text transform="translate(601,181.3)" font-size="11.3" text-anchor="middle" fill="#000" font-weight="bold" >V<tspan font-size="7.3" dy="2.5">GS</tspan><tspan dy="-2.5"> (V)</tspan></text>
<text transform="translate(488,87) rotate(-90)" font-size="11.3" text-anchor="middle" fill="#000" font-weight="bold" >I<tspan font-size="7.3" dy="2.5">D</tspan><tspan dy="-2.5"> (A)</tspan></text>
<path d="M45.4,215.2 L46.18,215.15 L46.96,214.95 L47.74,215.17 L48.52,215.13 L49.3,215.4 L50.08,215.45 L50.86,215.72 L51.64,215.63 L52.43,215.92 L53.21,215.81 L53.99,215.76 L54.77,215.71 L55.55,216.12 L56.33,216.17 L57.11,216.2 L57.89,216.1 L58.67,216.28 L59.45,216.47 L60.23,216.52 L61.01,216.63 L61.79,216.8 L62.57,217.02 L63.35,217.03 L64.13,216.94 L64.91,216.87 L65.7,216.75 L66.48,216.82 L67.26,216.97 L68.04,217.08 L68.82,217.08 L69.6,217.02 L70.38,217.05 L71.16,217.07 L71.94,217.2 L72.72,217.25 L73.5,217.36 L74.28,217.64 L75.06,217.94 L75.84,217.9 L76.62,217.64 L77.4,217.5 L78.19,217.75 L78.97,217.97 L79.75,217.97 L80.53,217.82 L81.31,218.11 L82.09,218.3 L82.87,218.31 L83.65,218.18 L84.43,218.16 L85.21,217.99 L85.99,217.94 L86.77,218.02 L87.55,218.25 L88.33,218.44 L89.11,218.61 L89.89,218.63 L90.67,218.65 L91.46,218.53 L92.24,218.62 L93.02,218.69 L93.8,218.75 L94.58,218.68 L95.36,218.69 L96.14,218.86 L96.92,219.05 L97.7,219.35 L98.48,219.12 L99.26,218.7 L100.04,218.42 L100.82,218.63 L101.6,218.9 L102.38,219.02 L103.16,218.78 L103.94,218.59 L104.73,218.71 L105.51,218.99 L106.29,219.09 L107.07,219.01 L107.85,218.94 L108.63,218.89 L109.41,218.98 L110.19,219.04 L110.97,219.03 L111.75,218.93 L112.53,218.93 L113.31,218.97 L114.09,219.16 L114.87,219.29 L115.65,219.31 L116.43,219.13 L117.21,218.92 L118,218.95 L118.78,219.04 L119.56,219.07 L120.34,219.02 L121.12,218.97 L121.9,219.07 L122.68,219.07 L123.46,219.23 L124.24,219.27 L125.02,219.35 L125.8,219.11 L126.58,219.02 L127.36,219.08 L128.14,219.11 L128.92,219.01 L129.7,218.95 L130.49,218.92 L131.27,218.93 L132.05,219.07 L132.83,219.14 L133.61,219.08 L134.39,218.9 L135.17,218.92 L135.95,218.76 L136.73,218.96 L137.51,219.1 L138.29,219.24 L139.07,219.03 L139.85,219.09 L140.63,219.37 L141.41,219.28 L142.19,219.14 L142.97,219.21 L143.76,219.45 L144.54,219.15 L145.32,219.01 L146.1,219.03 L146.88,219.05 L147.66,218.82 L148.44,218.87 L149.22,219.08 L150,219.15 L150.78,219.09 L151.56,218.93 L152.34,219.02 L153.12,219.03 L153.9,219.11 L154.68,219 L155.46,219.09 L156.24,219.22 L157.03,219.28 L157.81,219.19 L158.59,219.11 L159.37,219.11 L160.15,219.14 L160.93,219.19 L161.71,219.11 L162.49,218.79 L163.27,218.75 L164.05,219.13 L164.83,219.47 L165.61,219.29 L166.39,219.03 L167.17,218.96 L167.95,218.98 L168.73,218.87 L169.51,218.79 L170.3,218.65 L171.08,218.64 L171.86,218.56 L172.64,218.56 L173.42,218.4 L174.2,218.38 L174.98,218.25 L175.76,218.59 L176.54,218.48 L177.32,218.37 L178.1,218.4 L178.88,219.04 L179.66,219.27 L180.44,219.15 L181.22,218.88 L182,219.06 L182.79,219.09 L183.57,219.15 L184.35,219.03 L185.13,218.91 L185.91,218.85 L186.69,219.01 L187.47,219.31 L188.25,219.31 L189.03,219.16 L189.81,219.09 L190.59,219.2 L191.37,219.31 L192.15,219.27 L192.93,219.38 L193.71,219.47 L194.49,219.67 L195.27,219.75 L196.06,219.78 L196.84,219.42 L197.62,219.32 L198.4,219.4 L199.18,219.68 L199.96,219.77 L200.74,219.72 L201.52,219.7 L202.3,219.66" fill="none" stroke="#e8102f" stroke-width="2.4" stroke-linejoin="round" stroke-linecap="round" />
<path d="M45.4,222.67 L46.18,222.51 L46.96,222.8 L47.74,222.84 L48.52,222.97 L49.3,222.97 L50.08,223.21 L50.86,223.21 L51.64,223.14 L52.43,223.49 L53.21,224.12 L53.99,224.43 L54.77,224.21 L55.55,224.03 L56.33,224.13 L57.11,224.33 L57.89,224.55 L58.67,224.69 L59.45,224.72 L60.23,224.49 L61.01,224.54 L61.79,224.61 L62.57,224.62 L63.35,224.55 L64.13,224.52 L64.91,224.58 L65.7,224.45 L66.48,224.27 L67.26,224.34 L68.04,224.53 L68.82,225.02 L69.6,224.83 L70.38,224.26 L71.16,223.4 L71.94,224.75 L72.72,225.67 L73.5,225.81 L74.28,225.64 L75.06,225.77 L75.84,225.94 L76.62,226.08 L77.4,225.88 L78.19,226.12 L78.97,226.45 L79.75,226.73 L80.53,226.57 L81.31,226.5 L82.09,226.49 L82.87,226.46 L83.65,226.7 L84.43,226.88 L85.21,226.84 L85.99,226.77 L86.77,226.97 L87.55,227.3 L88.33,227.34 L89.11,227.34 L89.89,227.32 L90.67,227.17 L91.46,226.96 L92.24,226.99 L93.02,227.26 L93.8,227.37 L94.58,227.15 L95.36,227.06 L96.14,227.03 L96.92,227.09 L97.7,227.13 L98.48,227.42 L99.26,227.55 L100.04,227.54 L100.82,227.47 L101.6,227.52 L102.38,227.29 L103.16,227.52 L103.94,227.28 L104.73,227.24 L105.51,227.25 L106.29,227.38 L107.07,227.25 L107.85,227.24 L108.63,227.65 L109.41,227.89 L110.19,227.88 L110.97,227.52 L111.75,227.5 L112.53,227.85 L113.31,227.98 L114.09,227.78 L114.87,227.72 L115.65,227.87 L116.43,227.87 L117.21,228 L118,227.76 L118.78,227.74 L119.56,227.74 L120.34,227.93 L121.12,227.93 L121.9,227.63 L122.68,227.67 L123.46,227.74 L124.24,227.87 L125.02,227.7 L125.8,227.66 L126.58,228.12 L127.36,228.44 L128.14,228.49 L128.92,227.98 L129.7,227.59 L130.49,227.48 L131.27,227.51 L132.05,227.45 L132.83,227.39 L133.61,227.43 L134.39,227.49 L135.17,227.45 L135.95,227.35 L136.73,227.74 L137.51,227.79 L138.29,227.59 L139.07,227.31 L139.85,227.52 L140.63,227.68 L141.41,227.75 L142.19,227.97 L142.97,228.03 L143.76,227.76 L144.54,227.65 L145.32,227.4 L146.1,227.38 L146.88,227.23 L147.66,227.29 L148.44,227.36 L149.22,227.46 L150,227.7 L150.78,227.47 L151.56,227.49 L152.34,227.51 L153.12,227.7 L153.9,227.37 L154.68,227.19 L155.46,227.01 L156.24,226.86 L157.03,227.3 L157.81,227.87 L158.59,228.28 L159.37,227.81 L160.15,227.67 L160.93,227.56 L161.71,227.69 L162.49,227.58 L163.27,227.42 L164.05,227.04 L164.83,227.04 L165.61,227.24 L166.39,227.65 L167.17,227.55 L167.95,227.66 L168.73,227.53 L169.51,227.29 L170.3,227.2 L171.08,227.45 L171.86,227.53 L172.64,227.54 L173.42,227.92 L174.2,228.3 L174.98,228.48 L175.76,229.1 L176.54,229.49 L177.32,229.63 L178.1,229 L178.88,228.93 L179.66,229.08 L180.44,229.47 L181.22,229.41 L182,229.48 L182.79,229.7 L183.57,229.86 L184.35,230.1 L185.13,230.55 L185.91,230.83 L186.69,230.72 L187.47,230.73 L188.25,231 L189.03,231.29 L189.81,230.79 L190.59,230.3 L191.37,230.08 L192.15,230.16 L192.93,230.11 L193.71,229.95 L194.49,229.5 L195.27,229.01 L196.06,228.58 L196.84,228.77 L197.62,228.84 L198.4,228.82 L199.18,228.56 L199.96,228.33 L200.74,228.08 L201.52,227.9 L202.3,228.04" fill="none" stroke="#f57d3c" stroke-width="2.3" stroke-linejoin="round" stroke-linecap="round" />
<path d="M45.4,236.72 L46.18,236.77 L46.96,236.26 L47.74,235.24 L48.52,236.26 L49.3,236.66 L50.08,236.72 L50.86,236.85 L51.64,236.92 L52.43,236.9 L53.21,238.01 L53.99,237.56 L54.77,238.17 L55.55,238.18 L56.33,237.09 L57.11,237.7 L57.89,237.54 L58.67,236.92 L59.45,237.97 L60.23,238.08 L61.01,238.05 L61.79,238.7 L62.57,239.19 L63.35,239.16 L64.13,238.89 L64.91,239.14 L65.7,239.53 L66.48,239.64 L67.26,239.63 L68.04,239.98 L68.82,240.62 L69.6,239.27 L70.38,237.81 L71.16,237.96 L71.94,238.34 L72.72,238.79 L73.5,239.41 L74.28,240.57 L75.06,242.26 L75.84,240.37 L76.62,241.19 L77.4,241.36 L78.19,241.36 L78.97,241.16 L79.75,241.26 L80.53,241.48 L81.31,241.65 L82.09,241.5 L82.87,241.55 L83.65,241.9 L84.43,241.66 L85.21,242.86 L85.99,242.97 L86.77,243.15 L87.55,242.88 L88.33,242.77 L89.11,242.41 L89.89,242.42 L90.67,242.06 L91.46,242.49 L92.24,242.99 L93.02,243.3 L93.8,243.36 L94.58,243.15 L95.36,243.1 L96.14,242.89 L96.92,242.85 L97.7,242.84 L98.48,243.24 L99.26,243.35 L100.04,243.28 L100.82,243.06 L101.6,243.48 L102.38,243.54 L103.16,244.52 L103.94,244.36 L104.73,243.44 L105.51,243.1 L106.29,243.15 L107.07,243.05 L107.85,243.19 L108.63,243.17 L109.41,243.29 L110.19,243.22 L110.97,243.38 L111.75,243.59 L112.53,243.37 L113.31,242.67 L114.09,242.42 L114.87,242.59 L115.65,243.03 L116.43,243.05 L117.21,243.21 L118,244.19 L118.78,243.39 L119.56,243.49 L120.34,243.5 L121.12,243.41 L121.9,243.7 L122.68,244.14 L123.46,243.92 L124.24,242.54 L125.02,243.43 L125.8,243.86 L126.58,243.91 L127.36,243.65 L128.14,243.26 L128.92,243.31 L129.7,243.5 L130.49,243.49 L131.27,243.28 L132.05,243.16 L132.83,243.33 L133.61,243.28 L134.39,243.33 L135.17,244.29 L135.95,243.58 L136.73,243.32 L137.51,243.31 L138.29,242.31 L139.07,243.28 L139.85,242.97 L140.63,241.81 L141.41,242.6 L142.19,242.85 L142.97,243.11 L143.76,243.07 L144.54,242.91 L145.32,242.73 L146.1,242.63 L146.88,243.06 L147.66,243.4 L148.44,243.26 L149.22,242.94 L150,242.76 L150.78,242.69 L151.56,242.72 L152.34,242.76 L153.12,242.46 L153.9,242.08 L154.68,242.2 L155.46,242.53 L156.24,242.86 L157.03,242.77 L157.81,242.74 L158.59,242.66 L159.37,242.71 L160.15,242.65 L160.93,242.55 L161.71,242.25 L162.49,242.06 L163.27,241.72 L164.05,241.59 L164.83,241.32 L165.61,241.43 L166.39,241.16 L167.17,240.93 L167.95,241.14 L168.73,241.76 L169.51,242.04 L170.3,242.32 L171.08,242.51 L171.86,242.75 L172.64,243.47 L173.42,244.06 L174.2,244.23 L174.98,244.28 L175.76,244.33 L176.54,244.55 L177.32,244.58 L178.1,244.72 L178.88,244.55 L179.66,244.38 L180.44,244.5 L181.22,244.37 L182,244.22 L182.79,244.28 L183.57,244.83 L184.35,244.34 L185.13,245.57 L185.91,245.62 L186.69,245.42 L187.47,245.99 L188.25,244.71 L189.03,244.57 L189.81,244.4 L190.59,244.7 L191.37,244.95 L192.15,244.97 L192.93,244.68 L193.71,244.24 L194.49,244.18 L195.27,244.31 L196.06,244.58 L196.84,244.43 L197.62,245.06 L198.4,245.74 L199.18,246.22 L199.96,246.15 L200.74,246.28 L201.52,246.75 L202.3,247.27" fill="none" stroke="#f4c01c" stroke-width="2.3" stroke-linejoin="round" stroke-linecap="round" />
<path d="M45.4,256.19 L46.18,256.2 L46.96,256.4 L47.74,256.5 L48.52,256.49 L49.3,256.35 L50.08,256.75 L50.86,257.34 L51.64,257.4 L52.43,257.48 L53.21,257.68 L53.99,259.09 L54.77,258.23 L55.55,258.2 L56.33,258.27 L57.11,258.36 L57.89,258.95 L58.67,259.31 L59.45,259.55 L60.23,259.21 L61.01,259.18 L61.79,259.42 L62.57,260.55 L63.35,260.01 L64.13,260.41 L64.91,260.98 L65.7,261.62 L66.48,261.83 L67.26,260.6 L68.04,260.66 L68.82,260.66 L69.6,260.14 L70.38,260.96 L71.16,260.68 L71.94,261.05 L72.72,262.12 L73.5,262.72 L74.28,262.6 L75.06,262.45 L75.84,262.26 L76.62,262.41 L77.4,262.24 L78.19,262.46 L78.97,262.54 L79.75,263.04 L80.53,263.16 L81.31,263.46 L82.09,263.49 L82.87,263.73 L83.65,263.83 L84.43,263.65 L85.21,263.47 L85.99,263.57 L86.77,262.88 L87.55,263.98 L88.33,263.89 L89.11,265.15 L89.89,264.45 L90.67,264.76 L91.46,265.08 L92.24,265.16 L93.02,264.97 L93.8,264.36 L94.58,264.28 L95.36,264.14 L96.14,263.41 L96.92,264.35 L97.7,264.42 L98.48,264.58 L99.26,265 L100.04,264.95 L100.82,264.76 L101.6,265.59 L102.38,264.59 L103.16,264.37 L103.94,264.16 L104.73,264.02 L105.51,264.24 L106.29,264.36 L107.07,263.99 L107.85,263.66 L108.63,263.31 L109.41,263.27 L110.19,263.26 L110.97,264 L111.75,264.18 L112.53,262.92 L113.31,263.64 L114.09,263.83 L114.87,264.04 L115.65,263.91 L116.43,263.97 L117.21,263.88 L118,263.96 L118.78,264.08 L119.56,264.01 L120.34,263.73 L121.12,263.47 L121.9,263.54 L122.68,263.76 L123.46,264.06 L124.24,264.07 L125.02,263.8 L125.8,263.81 L126.58,263.66 L127.36,263.47 L128.14,263.03 L128.92,263.96 L129.7,262.82 L130.49,263.12 L131.27,263.21 L132.05,262.75 L132.83,262.07 L133.61,261.7 L134.39,262 L135.17,262.44 L135.95,262.71 L136.73,262.61 L137.51,262.46 L138.29,262.63 L139.07,262.94 L139.85,263.06 L140.63,262.7 L141.41,262.54 L142.19,262.88 L142.97,263.27 L143.76,263.41 L144.54,263.28 L145.32,262.77 L146.1,262.76 L146.88,263.06 L147.66,262.17 L148.44,262.79 L149.22,263.14 L150,263.59 L150.78,263.87 L151.56,263.9 L152.34,262.85 L153.12,263.57 L153.9,263.3 L154.68,263.31 L155.46,263.52 L156.24,263.63 L157.03,263.87 L157.81,263.96 L158.59,263.14 L159.37,264.35 L160.15,264.8 L160.93,265.21 L161.71,265.19 L162.49,264.96 L163.27,264.66 L164.05,264.85 L164.83,265.25 L165.61,265.34 L166.39,265.23 L167.17,265.05 L167.95,265.13 L168.73,265.11 L169.51,265.18 L170.3,264.41 L171.08,265.26 L171.86,265.13 L172.64,265.06 L173.42,265.25 L174.2,265.45 L174.98,265.36 L175.76,265.51 L176.54,265.35 L177.32,265.58 L178.1,265.8 L178.88,266.49 L179.66,266.81 L180.44,266.95 L181.22,266.59 L182,266.69 L182.79,266.48 L183.57,266.28 L184.35,265.67 L185.13,265.69 L185.91,266.01 L186.69,266.18 L187.47,266.97 L188.25,265.71 L189.03,265.76 L189.81,265.73 L190.59,265.56 L191.37,265.82 L192.15,265.73 L192.93,265.61 L193.71,265.48 L194.49,266.1 L195.27,266.27 L196.06,266.08 L196.84,265.89 L197.62,265.53 L198.4,265.36 L199.18,264.96 L199.96,264.38 L200.74,263.68 L201.52,263.38 L202.3,263.16" fill="none" stroke="#3bafa3" stroke-width="2.3" stroke-linejoin="round" stroke-linecap="round" />
<path d="M45.4,281.15 L46.18,281.75 L46.96,282 L47.74,282.12 L48.52,282.2 L49.3,282.38 L50.08,282.31 L50.86,282.28 L51.64,282.64 L52.43,282.71 L53.21,282.79 L53.99,283.06 L54.77,283.58 L55.55,283.68 L56.33,282.79 L57.11,284.26 L57.89,285.31 L58.67,285.52 L59.45,285.54 L60.23,285.47 L61.01,285.8 L61.79,285.84 L62.57,286.26 L63.35,286.93 L64.13,287.61 L64.91,287.99 L65.7,287.99 L66.48,288.96 L67.26,288.07 L68.04,288.4 L68.82,288.46 L69.6,288.51 L70.38,289.51 L71.16,288.73 L71.94,288.9 L72.72,289.1 L73.5,289.46 L74.28,289.59 L75.06,289.88 L75.84,289.8 L76.62,289.77 L77.4,289.82 L78.19,290.29 L78.97,290.76 L79.75,290.28 L80.53,291.8 L81.31,292.15 L82.09,292.14 L82.87,292.18 L83.65,292.68 L84.43,293.19 L85.21,293.22 L85.99,293.07 L86.77,294.28 L87.55,293.59 L88.33,293.7 L89.11,292.03 L89.89,291.95 L90.67,292.71 L91.46,293 L92.24,293.65 L93.02,293.88 L93.8,293.94 L94.58,294.04 L95.36,294.37 L96.14,294.9 L96.92,295.06 L97.7,294.68 L98.48,294.42 L99.26,294.05 L100.04,294.42 L100.82,294.55 L101.6,295.57 L102.38,293.69 L103.16,292.8 L103.94,292.76 L104.73,292.81 L105.51,292.63 L106.29,292.15 L107.07,292.42 L107.85,292.76 L108.63,292.87 L109.41,292.69 L110.19,292.84 L110.97,292.95 L111.75,292.71 L112.53,292.42 L113.31,292.15 L114.09,292.15 L114.87,292.43 L115.65,292.62 L116.43,292.66 L117.21,292.39 L118,292.37 L118.78,292.56 L119.56,292.72 L120.34,292.7 L121.12,292.68 L121.9,292.94 L122.68,293.2 L123.46,292.19 L124.24,292.85 L125.02,292.97 L125.8,293.44 L126.58,294.19 L127.36,294.22 L128.14,294.74 L128.92,294.8 L129.7,295.12 L130.49,295.06 L131.27,295.01 L132.05,294.84 L132.83,294.71 L133.61,294.16 L134.39,293.53 L135.17,293.59 L135.95,295.36 L136.73,294.26 L137.51,293.8 L138.29,293.59 L139.07,293.91 L139.85,293.64 L140.63,292.92 L141.41,292.27 L142.19,292.04 L142.97,292.14 L143.76,291.93 L144.54,291.49 L145.32,291.5 L146.1,291.86 L146.88,291.93 L147.66,291.73 L148.44,292.62 L149.22,291.85 L150,292.27 L150.78,292.78 L151.56,292.71 L152.34,291.41 L153.12,292.25 L153.9,292.42 L154.68,292.52 L155.46,292.4 L156.24,291.9 L157.03,291.19 L157.81,291.02 L158.59,291.21 L159.37,292.37 L160.15,291 L160.93,290.68 L161.71,290.87 L162.49,291.22 L163.27,291.15 L164.05,290.82 L164.83,290.83 L165.61,291.05 L166.39,291.34 L167.17,291.33 L167.95,290.96 L168.73,290.61 L169.51,290.7 L170.3,291.11 L171.08,291.33 L171.86,291.61 L172.64,291.53 L173.42,291.64 L174.2,291.66 L174.98,291.92 L175.76,291.97 L176.54,291.93 L177.32,293 L178.1,292.14 L178.88,292.65 L179.66,292.89 L180.44,293.16 L181.22,293.04 L182,293.04 L182.79,291.64 L183.57,292.82 L184.35,293.02 L185.13,293.62 L185.91,293.51 L186.69,293.66 L187.47,293.59 L188.25,293.63 L189.03,293.74 L189.81,295.29 L190.59,294.82 L191.37,294.94 L192.15,295.07 L192.93,295.6 L193.71,295.85 L194.49,295.38 L195.27,294.58 L196.06,293.39 L196.84,292.54 L197.62,291.86 L198.4,292.54 L199.18,293.12 L199.96,293.89 L200.74,294.6 L201.52,293.82 L202.3,295.21" fill="none" stroke="#2766a6" stroke-width="2.3" stroke-linejoin="round" stroke-linecap="round" />
<path d="M45.4,308.15 L46.18,308.44 L46.96,308.51 L47.74,308.11 L48.52,308.34 L49.3,309.05 L50.08,311.18 L50.86,312.36 L51.64,312.37 L52.43,313.03 L53.21,313.91 L53.99,313.1 L54.77,312.91 L55.55,313 L56.33,313.11 L57.11,312.2 L57.89,313.04 L58.67,313.2 L59.45,313.46 L60.23,313.64 L61.01,313.89 L61.79,313.7 L62.57,314.28 L63.35,313.46 L64.13,313.65 L64.91,313.96 L65.7,314.17 L66.48,314.34 L67.26,314.17 L68.04,314.04 L68.82,313.81 L69.6,313.86 L70.38,314.29 L71.16,314.6 L71.94,314.46 L72.72,313.99 L73.5,313.76 L74.28,313.01 L75.06,314.27 L75.84,314.72 L76.62,314.82 L77.4,314.59 L78.19,314.55 L78.97,314.76 L79.75,314.65 L80.53,315.47 L81.31,314.74 L82.09,314.81 L82.87,314.5 L83.65,314.72 L84.43,315.91 L85.21,315.31 L85.99,315.28 L86.77,315.92 L87.55,315.58 L88.33,316 L89.11,316.03 L89.89,315.7 L90.67,315.76 L91.46,316.04 L92.24,315.89 L93.02,315.74 L93.8,315.91 L94.58,316.25 L95.36,316.21 L96.14,316.18 L96.92,316.1 L97.7,315.9 L98.48,315.88 L99.26,316.43 L100.04,316.98 L100.82,317.26 L101.6,317.54 L102.38,317.63 L103.16,317.29 L103.94,317.03 L104.73,316.83 L105.51,316.77 L106.29,316.76 L107.07,316.95 L107.85,317.07 L108.63,316.7 L109.41,316.54 L110.19,316.35 L110.97,316.68 L111.75,316.58 L112.53,316.38 L113.31,316.25 L114.09,316.12 L114.87,316.21 L115.65,315.96 L116.43,315.86 L117.21,315.72 L118,316.08 L118.78,316.29 L119.56,316.12 L120.34,315.96 L121.12,315.86 L121.9,315.65 L122.68,315.12 L123.46,315.02 L124.24,315.09 L125.02,315.12 L125.8,314.72 L126.58,314.6 L127.36,314.82 L128.14,315.07 L128.92,314.9 L129.7,314.66 L130.49,314.62 L131.27,315.82 L132.05,315.32 L132.83,315.05 L133.61,315.62 L134.39,314.83 L135.17,315.41 L135.95,315.4 L136.73,315.3 L137.51,314.95 L138.29,315.05 L139.07,315.06 L139.85,315.81 L140.63,315.71 L141.41,314.79 L142.19,314.69 L142.97,314.52 L143.76,314.47 L144.54,314.45 L145.32,314.55 L146.1,314.56 L146.88,314.64 L147.66,314.79 L148.44,314.83 L149.22,314.81 L150,314.79 L150.78,314.79 L151.56,314.71 L152.34,314.72 L153.12,314.5 L153.9,314.51 L154.68,314.49 L155.46,314.09 L156.24,313.88 L157.03,313.98 L157.81,314.62 L158.59,314.48 L159.37,314.52 L160.15,314.52 L160.93,314.58 L161.71,314.36 L162.49,314.21 L163.27,314.6 L164.05,315.82 L164.83,314.44 L165.61,315.08 L166.39,314.91 L167.17,314.85 L167.95,314.96 L168.73,314.77 L169.51,314.7 L170.3,314.67 L171.08,314.65 L171.86,314.58 L172.64,314.75 L173.42,315.07 L174.2,315.2 L174.98,315.17 L175.76,315.03 L176.54,314.96 L177.32,314.21 L178.1,315.29 L178.88,315.6 L179.66,315.6 L180.44,315.35 L181.22,315.24 L182,315.31 L182.79,315.19 L183.57,315.37 L184.35,315.53 L185.13,315.89 L185.91,316.06 L186.69,316.22 L187.47,315.96 L188.25,315.58 L189.03,315.68 L189.81,315.98 L190.59,315.84 L191.37,315.3 L192.15,315.25 L192.93,315.48 L193.71,315.8 L194.49,315.69 L195.27,315.63 L196.06,315.19 L196.84,314.05 L197.62,314.32 L198.4,313.72 L199.18,313.79 L199.96,314.25 L200.74,314.47 L201.52,315.07 L202.3,314.11" fill="none" stroke="#9b3ef0" stroke-width="2.3" stroke-linejoin="round" stroke-linecap="round" />
<path d="M45.4,341.2 L46.18,341.55 L46.96,341.8 L47.74,340.88 L48.52,342.8 L49.3,343.67 L50.08,344.33 L50.86,345.34 L51.64,346.48 L52.43,346.97 L53.21,344.04 L53.99,342.91 L54.77,341.91 L55.55,341.69 L56.33,341.13 L57.11,341.13 L57.89,341.29 L58.67,341.57 L59.45,340.99 L60.23,342.52 L61.01,341.25 L61.79,341.31 L62.57,341.26 L63.35,341.32 L64.13,340.8 L64.91,340.01 L65.7,339.47 L66.48,339.89 L67.26,340.13 L68.04,340.36 L68.82,338.92 L69.6,340.14 L70.38,340.2 L71.16,339.6 L71.94,339.6 L72.72,339.27 L73.5,340.05 L74.28,340.82 L75.06,341.03 L75.84,340.69 L76.62,340.29 L77.4,340.4 L78.19,340.05 L78.97,339.55 L79.75,338.88 L80.53,339.12 L81.31,340.22 L82.09,339.44 L82.87,340.44 L83.65,340.27 L84.43,339.03 L85.21,339.02 L85.99,339.99 L86.77,339.88 L87.55,339.73 L88.33,339.29 L89.11,339.32 L89.89,339.5 L90.67,340.06 L91.46,339.93 L92.24,339.34 L93.02,338.89 L93.8,340.9 L94.58,339.99 L95.36,339.6 L96.14,338.84 L96.92,338.63 L97.7,338.76 L98.48,338.8 L99.26,339.31 L100.04,339.51 L100.82,339.65 L101.6,339.64 L102.38,340.15 L103.16,340.05 L103.94,339.62 L104.73,339.46 L105.51,339.47 L106.29,338.86 L107.07,338.69 L107.85,339.12 L108.63,339.64 L109.41,339.2 L110.19,338.81 L110.97,338.6 L111.75,338.69 L112.53,339.05 L113.31,339.66 L114.09,339.88 L114.87,339.61 L115.65,339.37 L116.43,339.19 L117.21,338.96 L118,338.61 L118.78,338.52 L119.56,340.51 L120.34,338.24 L121.12,339.43 L121.9,338.65 L122.68,338.2 L123.46,338.32 L124.24,338.6 L125.02,338.44 L125.8,338.31 L126.58,338.21 L127.36,338.8 L128.14,338.86 L128.92,339.29 L129.7,338.94 L130.49,338.64 L131.27,339.69 L132.05,338.69 L132.83,338.93 L133.61,338.51 L134.39,338.13 L135.17,338.1 L135.95,339.66 L136.73,338 L137.51,338.38 L138.29,338.56 L139.07,338.33 L139.85,338.01 L140.63,338.23 L141.41,338.36 L142.19,338.35 L142.97,338.49 L143.76,338.55 L144.54,338.57 L145.32,338.55 L146.1,338.24 L146.88,337.83 L147.66,337.64 L148.44,337.81 L149.22,337.67 L150,337.24 L150.78,337.13 L151.56,337.2 L152.34,337.04 L153.12,337.04 L153.9,337.36 L154.68,337.84 L155.46,336.3 L156.24,337.5 L157.03,337.02 L157.81,336.99 L158.59,337.24 L159.37,337.34 L160.15,337.33 L160.93,337.05 L161.71,337.13 L162.49,336.87 L163.27,335.63 L164.05,337.31 L164.83,338.05 L165.61,338.52 L166.39,338.01 L167.17,337.65 L167.95,337.7 L168.73,338.32 L169.51,337.98 L170.3,342.71 L171.08,343.99 L171.86,343.47 L172.64,342.72 L173.42,342.2 L174.2,341.95 L174.98,341.33 L175.76,340.42 L176.54,340.04 L177.32,339.63 L178.1,339.85 L178.88,341.41 L179.66,340.32 L180.44,340.04 L181.22,339.79 L182,339.76 L182.79,340.12 L183.57,339.71 L184.35,339.4 L185.13,339.22 L185.91,339.45 L186.69,339.34 L187.47,339.65 L188.25,339.57 L189.03,338.87 L189.81,338.02 L190.59,338.13 L191.37,338.61 L192.15,339.06 L192.93,338.99 L193.71,338.73 L194.49,338.56 L195.27,338.37 L196.06,336.43 L196.84,337.9 L197.62,337.89 L198.4,338.14 L199.18,338 L199.96,338.45 L200.74,337.75 L201.52,337.55 L202.3,337.66" fill="none" stroke="#111" stroke-width="2.6" stroke-linejoin="round" stroke-linecap="round" />
<path d="M52.1,346 L49.3,344.4 L49.3,347.6 Z" fill="#111"/>
<path d="M54.6,347.3 L51.8,345.7 L51.8,348.9 Z" fill="#111"/>
<path d="M172.4,343.5 L169.6,341.9 L169.6,345.1 Z" fill="#111"/>
<path d="M189.7,347 L189.7,217 Q189.7,214.9 191.8,214.9 L196.6,214.9 Q198.7,214.9 198.7,217 L198.7,344.5 Q198.7,346.5 196.6,346.5 L191.8,346.5 Q189.7,346.5 189.7,344.5" fill="none" stroke="#111" stroke-width="1.2" stroke-dasharray="3.8 2.6"/>
<text transform="translate(58.6,329)" font-size="9.3" text-anchor="start" fill="#1a1a1a" font-weight="normal" >READ: V<tspan font-size="6.3" dy="2.2">GS</tspan><tspan dy="-2.2">= -0.5 V, V</tspan><tspan font-size="6.3" dy="2.2">DS</tspan><tspan dy="-2.2">=0.1 V</tspan></text>
<rect x="45" y="211.3" width="157.7" height="138.9" fill="none" stroke="#7c7c7c" stroke-width="1.45"/>
<line x1="45" y1="350.2" x2="45" y2="346.6" stroke="#505050" stroke-width="1" />
<line x1="84.45" y1="350.2" x2="84.45" y2="346.6" stroke="#505050" stroke-width="1" />
<line x1="123.9" y1="350.2" x2="123.9" y2="346.6" stroke="#505050" stroke-width="1" />
<line x1="163.35" y1="350.2" x2="163.35" y2="346.6" stroke="#505050" stroke-width="1" />
<line x1="202.8" y1="350.2" x2="202.8" y2="346.6" stroke="#505050" stroke-width="1" />
<line x1="64.72" y1="350.2" x2="64.72" y2="348.2" stroke="#505050" stroke-width="1" />
<line x1="104.18" y1="350.2" x2="104.18" y2="348.2" stroke="#505050" stroke-width="1" />
<line x1="143.62" y1="350.2" x2="143.62" y2="348.2" stroke="#505050" stroke-width="1" />
<line x1="183.08" y1="350.2" x2="183.08" y2="348.2" stroke="#505050" stroke-width="1" />
<text transform="translate(45,364.2) scale(1.08,1)" font-size="10.5" text-anchor="middle" fill="#1a1a1a" font-weight="normal" >0</text>
<text transform="translate(84.45,364.2) scale(1.08,1)" font-size="10.5" text-anchor="middle" fill="#1a1a1a" font-weight="normal" >25</text>
<text transform="translate(123.9,364.2) scale(1.08,1)" font-size="10.5" text-anchor="middle" fill="#1a1a1a" font-weight="normal" >50</text>
<text transform="translate(163.35,364.2) scale(1.08,1)" font-size="10.5" text-anchor="middle" fill="#1a1a1a" font-weight="normal" >75</text>
<text transform="translate(202.8,364.2) scale(1.08,1)" font-size="10.5" text-anchor="middle" fill="#1a1a1a" font-weight="normal" >100</text>
<line x1="45" y1="350.3" x2="48.6" y2="350.3" stroke="#505050" stroke-width="1" />
<text transform="translate(40.6,354.7) scale(1.08,1)" font-size="10.5" text-anchor="end" fill="#1a1a1a">10<tspan font-size="5.9" dy="-6.4">-13</tspan></text>
<line x1="45" y1="325" x2="48.6" y2="325" stroke="#505050" stroke-width="1" />
<text transform="translate(40.6,329.4) scale(1.08,1)" font-size="10.5" text-anchor="end" fill="#1a1a1a">10<tspan font-size="5.9" dy="-6.4">-12</tspan></text>
<line x1="45" y1="299.7" x2="48.6" y2="299.7" stroke="#505050" stroke-width="1" />
<text transform="translate(40.6,304.1) scale(1.08,1)" font-size="10.5" text-anchor="end" fill="#1a1a1a">10<tspan font-size="5.9" dy="-6.4">-11</tspan></text>
<line x1="45" y1="274.4" x2="48.6" y2="274.4" stroke="#505050" stroke-width="1" />
<text transform="translate(40.6,278.8) scale(1.08,1)" font-size="10.5" text-anchor="end" fill="#1a1a1a">10<tspan font-size="5.9" dy="-6.4">-10</tspan></text>
<line x1="45" y1="249.1" x2="48.6" y2="249.1" stroke="#505050" stroke-width="1" />
<text transform="translate(40.6,253.5) scale(1.08,1)" font-size="10.5" text-anchor="end" fill="#1a1a1a">10<tspan font-size="5.9" dy="-6.4">-9</tspan></text>
<line x1="45" y1="223.8" x2="48.6" y2="223.8" stroke="#505050" stroke-width="1" />
<text transform="translate(40.6,228.2) scale(1.08,1)" font-size="10.5" text-anchor="end" fill="#1a1a1a">10<tspan font-size="5.9" dy="-6.4">-8</tspan></text>
<text transform="translate(117,384)" font-size="11.3" text-anchor="middle" fill="#000" font-weight="bold" >Number of cycles<tspan font-size="7.3" dy="2.5"></tspan><tspan dy="-2.5"></tspan></text>
<text transform="translate(9.6,285) rotate(-90)" font-size="11.3" text-anchor="middle" fill="#000" font-weight="bold" >I<tspan font-size="7.3" dy="2.5">D</tspan><tspan dy="-2.5"> (A)</tspan></text>
<defs><clipPath id="cpe"><rect x="281.5" y="211.5" width="157.5" height="139.5"/></clipPath></defs>
<g clip-path="url(#cpe)">
<line x1="281.5" y1="237.4" x2="439" y2="237.4" stroke="#222" stroke-width="1.1" />
<line x1="286.2" y1="237.4" x2="286.2" y2="260.4" stroke="#555" stroke-width="0.9" />
<rect x="284" y="258.2" width="4.4" height="4.4" fill="none" stroke="#e3193d" stroke-width="1.05"/>
<rect x="283.75" y="268.75" width="4.9" height="4.9" fill="#e3193d"/>
<line x1="291.04" y1="237.4" x2="291.04" y2="230.96" stroke="#3a3a3a" stroke-width="0.9" />
<circle cx="291.04" cy="230.96" r="2.5" fill="none" stroke="#f5874a" stroke-width="1.05"/>
<circle cx="291.04" cy="278.4" r="2.7" fill="#f5874a"/>
<line x1="295.89" y1="237.4" x2="295.89" y2="227.74" stroke="#3a3a3a" stroke-width="0.9" />
<path d="M295.89,224.6 L298.99,230.06 L292.79,230.06 Z" fill="none" stroke="#f3bd1e" stroke-width="1.05" stroke-linejoin="miter"/>
<path d="M295.89,283.51 L299.14,289.23 L292.64,289.23 Z" fill="#f3bd1e" stroke-linejoin="miter"/>
<line x1="300.73" y1="237.4" x2="300.73" y2="224.52" stroke="#3a3a3a" stroke-width="0.9" />
<path d="M300.73,227.66 L303.83,222.2 L297.63,222.2 Z" fill="none" stroke="#36aea2" stroke-width="1.05" stroke-linejoin="miter"/>
<path d="M300.73,304.19 L303.98,298.47 L297.48,298.47 Z" fill="#36aea2" stroke-linejoin="miter"/>
<line x1="305.57" y1="237.4" x2="305.57" y2="221.3" stroke="#3a3a3a" stroke-width="0.9" />
<path d="M305.57,218.3 L308.57,221.3 L305.57,224.3 L302.57,221.3 Z" fill="none" stroke="#2462a4" stroke-width="1.05" stroke-linejoin="miter"/>
<path d="M305.57,314.45 L308.72,317.6 L305.57,320.75 L302.42,317.6 Z" fill="#2462a4" stroke-linejoin="miter"/>
<line x1="310.41" y1="237.4" x2="310.41" y2="218.08" stroke="#3a3a3a" stroke-width="0.9" />
<path d="M307.38,218.08 L312.66,215.08 L312.66,221.08 Z" fill="none" stroke="#a23fe6" stroke-width="1.05" stroke-linejoin="miter"/>
<path d="M307.18,331 L312.81,327.8 L312.81,334.2 Z" fill="#a23fe6" stroke-linejoin="miter"/>
<line x1="315.26" y1="237.4" x2="315.26" y2="214.86" stroke="#3a3a3a" stroke-width="0.9" />
<path d="M318.4,214.86 L312.94,211.76 L312.94,217.96 Z" fill="none" stroke="#000" stroke-width="1.05" stroke-linejoin="miter"/>
<path d="M318.55,343.7 L312.83,340.45 L312.83,346.95 Z" fill="#000" stroke-linejoin="miter"/>
<line x1="320.1" y1="237.4" x2="320.1" y2="260.4" stroke="#555" stroke-width="0.9" />
<rect x="317.9" y="258.2" width="4.4" height="4.4" fill="none" stroke="#e3193d" stroke-width="1.05"/>
<rect x="317.65" y="268.75" width="4.9" height="4.9" fill="#e3193d"/>
<line x1="324.94" y1="237.4" x2="324.94" y2="230.96" stroke="#3a3a3a" stroke-width="0.9" />
<circle cx="324.94" cy="230.96" r="2.5" fill="none" stroke="#f5874a" stroke-width="1.05"/>
<circle cx="324.94" cy="278.4" r="2.7" fill="#f5874a"/>
<line x1="329.79" y1="237.4" x2="329.79" y2="227.74" stroke="#3a3a3a" stroke-width="0.9" />
<path d="M329.79,224.6 L332.89,230.06 L326.69,230.06 Z" fill="none" stroke="#f3bd1e" stroke-width="1.05" stroke-linejoin="miter"/>
<path d="M329.79,283.51 L333.04,289.23 L326.54,289.23 Z" fill="#f3bd1e" stroke-linejoin="miter"/>
<line x1="334.63" y1="237.4" x2="334.63" y2="224.52" stroke="#3a3a3a" stroke-width="0.9" />
<path d="M334.63,227.66 L337.73,222.2 L331.53,222.2 Z" fill="none" stroke="#36aea2" stroke-width="1.05" stroke-linejoin="miter"/>
<path d="M334.63,304.19 L337.88,298.47 L331.38,298.47 Z" fill="#36aea2" stroke-linejoin="miter"/>
<line x1="339.47" y1="237.4" x2="339.47" y2="221.3" stroke="#3a3a3a" stroke-width="0.9" />
<path d="M339.47,218.3 L342.47,221.3 L339.47,224.3 L336.47,221.3 Z" fill="none" stroke="#2462a4" stroke-width="1.05" stroke-linejoin="miter"/>
<path d="M339.47,314.45 L342.62,317.6 L339.47,320.75 L336.32,317.6 Z" fill="#2462a4" stroke-linejoin="miter"/>
<line x1="344.31" y1="237.4" x2="344.31" y2="218.08" stroke="#3a3a3a" stroke-width="0.9" />
<path d="M341.28,218.08 L346.56,215.08 L346.56,221.08 Z" fill="none" stroke="#a23fe6" stroke-width="1.05" stroke-linejoin="miter"/>
<path d="M341.08,331 L346.71,327.8 L346.71,334.2 Z" fill="#a23fe6" stroke-linejoin="miter"/>
<line x1="349.16" y1="237.4" x2="349.16" y2="214.86" stroke="#3a3a3a" stroke-width="0.9" />
<path d="M352.3,214.86 L346.84,211.76 L346.84,217.96 Z" fill="none" stroke="#000" stroke-width="1.05" stroke-linejoin="miter"/>
<path d="M352.45,343.7 L346.73,340.45 L346.73,346.95 Z" fill="#000" stroke-linejoin="miter"/>
<line x1="354" y1="237.4" x2="354" y2="260.4" stroke="#555" stroke-width="0.9" />
<rect x="351.8" y="258.2" width="4.4" height="4.4" fill="none" stroke="#e3193d" stroke-width="1.05"/>
<rect x="351.55" y="268.75" width="4.9" height="4.9" fill="#e3193d"/>
<line x1="358.84" y1="237.4" x2="358.84" y2="230.96" stroke="#3a3a3a" stroke-width="0.9" />
<circle cx="358.84" cy="230.96" r="2.5" fill="none" stroke="#f5874a" stroke-width="1.05"/>
<circle cx="358.84" cy="278.4" r="2.7" fill="#f5874a"/>
<line x1="363.69" y1="237.4" x2="363.69" y2="227.74" stroke="#3a3a3a" stroke-width="0.9" />
<path d="M363.69,224.6 L366.79,230.06 L360.59,230.06 Z" fill="none" stroke="#f3bd1e" stroke-width="1.05" stroke-linejoin="miter"/>
<path d="M363.69,283.51 L366.94,289.23 L360.44,289.23 Z" fill="#f3bd1e" stroke-linejoin="miter"/>
<line x1="368.53" y1="237.4" x2="368.53" y2="224.52" stroke="#3a3a3a" stroke-width="0.9" />
<path d="M368.53,227.66 L371.63,222.2 L365.43,222.2 Z" fill="none" stroke="#36aea2" stroke-width="1.05" stroke-linejoin="miter"/>
<path d="M368.53,304.19 L371.78,298.47 L365.28,298.47 Z" fill="#36aea2" stroke-linejoin="miter"/>
<line x1="373.37" y1="237.4" x2="373.37" y2="221.3" stroke="#3a3a3a" stroke-width="0.9" />
<path d="M373.37,218.3 L376.37,221.3 L373.37,224.3 L370.37,221.3 Z" fill="none" stroke="#2462a4" stroke-width="1.05" stroke-linejoin="miter"/>
<path d="M373.37,314.45 L376.52,317.6 L373.37,320.75 L370.22,317.6 Z" fill="#2462a4" stroke-linejoin="miter"/>
<line x1="378.21" y1="237.4" x2="378.21" y2="218.08" stroke="#3a3a3a" stroke-width="0.9" />
<path d="M375.18,218.08 L380.46,215.08 L380.46,221.08 Z" fill="none" stroke="#a23fe6" stroke-width="1.05" stroke-linejoin="miter"/>
<path d="M374.98,331 L380.61,327.8 L380.61,334.2 Z" fill="#a23fe6" stroke-linejoin="miter"/>
<line x1="383.06" y1="237.4" x2="383.06" y2="214.86" stroke="#3a3a3a" stroke-width="0.9" />
<path d="M386.2,214.86 L380.74,211.76 L380.74,217.96 Z" fill="none" stroke="#000" stroke-width="1.05" stroke-linejoin="miter"/>
<path d="M386.35,343.7 L380.63,340.45 L380.63,346.95 Z" fill="#000" stroke-linejoin="miter"/>
<line x1="387.9" y1="237.4" x2="387.9" y2="260.4" stroke="#555" stroke-width="0.9" />
<rect x="385.7" y="258.2" width="4.4" height="4.4" fill="none" stroke="#e3193d" stroke-width="1.05"/>
<rect x="385.45" y="268.75" width="4.9" height="4.9" fill="#e3193d"/>
<line x1="392.74" y1="237.4" x2="392.74" y2="230.96" stroke="#3a3a3a" stroke-width="0.9" />
<circle cx="392.74" cy="230.96" r="2.5" fill="none" stroke="#f5874a" stroke-width="1.05"/>
<circle cx="392.74" cy="278.4" r="2.7" fill="#f5874a"/>
<line x1="397.59" y1="237.4" x2="397.59" y2="227.74" stroke="#3a3a3a" stroke-width="0.9" />
<path d="M397.59,224.6 L400.69,230.06 L394.49,230.06 Z" fill="none" stroke="#f3bd1e" stroke-width="1.05" stroke-linejoin="miter"/>
<path d="M397.59,283.51 L400.84,289.23 L394.34,289.23 Z" fill="#f3bd1e" stroke-linejoin="miter"/>
<line x1="402.43" y1="237.4" x2="402.43" y2="224.52" stroke="#3a3a3a" stroke-width="0.9" />
<path d="M402.43,227.66 L405.53,222.2 L399.33,222.2 Z" fill="none" stroke="#36aea2" stroke-width="1.05" stroke-linejoin="miter"/>
<path d="M402.43,304.19 L405.68,298.47 L399.18,298.47 Z" fill="#36aea2" stroke-linejoin="miter"/>
<line x1="407.27" y1="237.4" x2="407.27" y2="221.3" stroke="#3a3a3a" stroke-width="0.9" />
<path d="M407.27,218.3 L410.27,221.3 L407.27,224.3 L404.27,221.3 Z" fill="none" stroke="#2462a4" stroke-width="1.05" stroke-linejoin="miter"/>
<path d="M407.27,314.45 L410.42,317.6 L407.27,320.75 L404.12,317.6 Z" fill="#2462a4" stroke-linejoin="miter"/>
<line x1="412.11" y1="237.4" x2="412.11" y2="218.08" stroke="#3a3a3a" stroke-width="0.9" />
<path d="M409.08,218.08 L414.36,215.08 L414.36,221.08 Z" fill="none" stroke="#a23fe6" stroke-width="1.05" stroke-linejoin="miter"/>
<path d="M408.88,331 L414.51,327.8 L414.51,334.2 Z" fill="#a23fe6" stroke-linejoin="miter"/>
<line x1="416.96" y1="237.4" x2="416.96" y2="214.86" stroke="#3a3a3a" stroke-width="0.9" />
<path d="M420.1,214.86 L414.64,211.76 L414.64,217.96 Z" fill="none" stroke="#000" stroke-width="1.05" stroke-linejoin="miter"/>
<path d="M420.25,343.7 L414.53,340.45 L414.53,346.95 Z" fill="#000" stroke-linejoin="miter"/>
<line x1="421.8" y1="237.4" x2="421.8" y2="260.4" stroke="#555" stroke-width="0.9" />
<rect x="419.6" y="258.2" width="4.4" height="4.4" fill="none" stroke="#e3193d" stroke-width="1.05"/>
<rect x="419.35" y="268.75" width="4.9" height="4.9" fill="#e3193d"/>
<line x1="426.64" y1="237.4" x2="426.64" y2="230.96" stroke="#3a3a3a" stroke-width="0.9" />
<circle cx="426.64" cy="230.96" r="2.5" fill="none" stroke="#f5874a" stroke-width="1.05"/>
<circle cx="426.64" cy="278.4" r="2.7" fill="#f5874a"/>
<line x1="431.49" y1="237.4" x2="431.49" y2="227.74" stroke="#3a3a3a" stroke-width="0.9" />
<path d="M431.49,224.6 L434.59,230.06 L428.39,230.06 Z" fill="none" stroke="#f3bd1e" stroke-width="1.05" stroke-linejoin="miter"/>
<path d="M431.49,283.51 L434.74,289.23 L428.24,289.23 Z" fill="#f3bd1e" stroke-linejoin="miter"/>
<line x1="436.33" y1="237.4" x2="436.33" y2="224.52" stroke="#3a3a3a" stroke-width="0.9" />
<path d="M436.33,227.66 L439.43,222.2 L433.23,222.2 Z" fill="none" stroke="#36aea2" stroke-width="1.05" stroke-linejoin="miter"/>
<path d="M436.33,304.19 L439.58,298.47 L433.08,298.47 Z" fill="#36aea2" stroke-linejoin="miter"/>
<line x1="441.17" y1="237.4" x2="441.17" y2="221.3" stroke="#3a3a3a" stroke-width="0.9" />
<path d="M441.17,218.3 L444.17,221.3 L441.17,224.3 L438.17,221.3 Z" fill="none" stroke="#2462a4" stroke-width="1.05" stroke-linejoin="miter"/>
<path d="M441.17,314.45 L444.32,317.6 L441.17,320.75 L438.02,317.6 Z" fill="#2462a4" stroke-linejoin="miter"/>
<line x1="385.9" y1="339.8" x2="385.9" y2="278.7" stroke="#999" stroke-width="1.1" />
<path d="M385.9,275.4 L384,279 L387.8,279 Z" fill="#000"/>
<line x1="392.4" y1="269.7" x2="392.4" y2="271.7" stroke="#000" stroke-width="1.0" />
<path d="M392.4,275 L390.5,271.4 L394.3,271.4 Z" fill="#000"/>
<line x1="396.1" y1="279" x2="396.1" y2="282.5" stroke="#000" stroke-width="1.0" />
<path d="M396.1,285.8 L394.2,282.2 L398,282.2 Z" fill="#000"/>
<line x1="400.7" y1="287.2" x2="400.7" y2="294.1" stroke="#000" stroke-width="1.0" />
<path d="M400.7,297.4 L398.8,293.8 L402.6,293.8 Z" fill="#000"/>
<line x1="405.4" y1="302" x2="405.4" y2="311.4" stroke="#000" stroke-width="1.0" />
<path d="M405.4,314.7 L403.5,311.1 L407.3,311.1 Z" fill="#000"/>
<line x1="410.2" y1="320.1" x2="410.2" y2="324.3" stroke="#000" stroke-width="1.0" />
<path d="M410.2,327.6 L408.3,324 L412.1,324 Z" fill="#000"/>
<line x1="414.9" y1="331.6" x2="414.9" y2="336.3" stroke="#888" stroke-width="1.0" />
<path d="M414.9,339.6 L413,336 L416.8,336 Z" fill="#000"/>
</g>
<text transform="translate(294.4,273.3)" font-size="10" text-anchor="start" fill="#d81f40" font-weight="normal" >ID7</text>
<text transform="translate(299.5,282.1)" font-size="10" text-anchor="start" fill="#f08550" font-weight="normal" >ID6</text>
<text transform="translate(303.3,291.3)" font-size="10" text-anchor="start" fill="#efbf2a" font-weight="normal" >ID5</text>
<text transform="translate(307,304.2)" font-size="10" text-anchor="start" fill="#3aaea3" font-weight="normal" >ID4</text>
<text transform="translate(312.4,320.8)" font-size="10" text-anchor="start" fill="#2f68ac" font-weight="normal" >ID3</text>
<text transform="translate(316.6,334.9)" font-size="10" text-anchor="start" fill="#9d3fe2" font-weight="normal" >ID2</text>
<text transform="translate(321.5,347.8)" font-size="10" text-anchor="start" fill="#111" font-weight="normal" >ID1</text>
<rect x="281.5" y="211.5" width="157.5" height="139.5" fill="none" stroke="#7c7c7c" stroke-width="1.45"/>
<line x1="281.5" y1="263.3" x2="439" y2="263.3" stroke="#222" stroke-width="1.3" />
<text transform="translate(277.2,215.5) scale(1.08,1)" font-size="10.5" text-anchor="end" fill="#1a1a1a" font-weight="normal" >8</text>
<text transform="translate(277.2,241.2) scale(1.08,1)" font-size="10.5" text-anchor="end" fill="#1a1a1a" font-weight="normal" >0</text>
<text transform="translate(277.2,267) scale(1.08,1)" font-size="10.5" text-anchor="end" fill="#1a1a1a" font-weight="normal" >-8</text>
<line x1="281.5" y1="224.52" x2="283.9" y2="224.52" stroke="#505050" stroke-width="0.9" />
<line x1="281.5" y1="250.28" x2="283.9" y2="250.28" stroke="#505050" stroke-width="0.9" />
<line x1="286.2" y1="351" x2="286.2" y2="347.4" stroke="#505050" stroke-width="1" />
<line x1="320.1" y1="351" x2="320.1" y2="347.4" stroke="#505050" stroke-width="1" />
<line x1="354" y1="351" x2="354" y2="347.4" stroke="#505050" stroke-width="1" />
<line x1="387.9" y1="351" x2="387.9" y2="347.4" stroke="#505050" stroke-width="1" />
<line x1="421.8" y1="351" x2="421.8" y2="347.4" stroke="#505050" stroke-width="1" />
<line x1="303.15" y1="351" x2="303.15" y2="349" stroke="#505050" stroke-width="1" />
<line x1="337.05" y1="351" x2="337.05" y2="349" stroke="#505050" stroke-width="1" />
<line x1="370.95" y1="351" x2="370.95" y2="349" stroke="#505050" stroke-width="1" />
<line x1="404.85" y1="351" x2="404.85" y2="349" stroke="#505050" stroke-width="1" />
<text transform="translate(286.2,364.2) scale(1.08,1)" font-size="10.5" text-anchor="middle" fill="#1a1a1a" font-weight="normal" >91</text>
<text transform="translate(320.1,364.2) scale(1.08,1)" font-size="10.5" text-anchor="middle" fill="#1a1a1a" font-weight="normal" >92</text>
<text transform="translate(354,364.2) scale(1.08,1)" font-size="10.5" text-anchor="middle" fill="#1a1a1a" font-weight="normal" >93</text>
<text transform="translate(387.9,364.2) scale(1.08,1)" font-size="10.5" text-anchor="middle" fill="#1a1a1a" font-weight="normal" >94</text>
<text transform="translate(421.8,364.2) scale(1.08,1)" font-size="10.5" text-anchor="middle" fill="#1a1a1a" font-weight="normal" >95</text>
<line x1="281.5" y1="349.55" x2="284.5" y2="349.55" stroke="#505050" stroke-width="1" />
<text transform="translate(277.2,353.95) scale(1.08,1)" font-size="10.5" text-anchor="end" fill="#1a1a1a">10<tspan font-size="5.9" dy="-6.4">-13</tspan></text>
<line x1="281.5" y1="334.5" x2="284.5" y2="334.5" stroke="#505050" stroke-width="1" />
<text transform="translate(277.2,338.9) scale(1.08,1)" font-size="10.5" text-anchor="end" fill="#1a1a1a">10<tspan font-size="5.9" dy="-6.4">-12</tspan></text>
<line x1="281.5" y1="319.45" x2="284.5" y2="319.45" stroke="#505050" stroke-width="1" />
<text transform="translate(277.2,323.85) scale(1.08,1)" font-size="10.5" text-anchor="end" fill="#1a1a1a">10<tspan font-size="5.9" dy="-6.4">-11</tspan></text>
<line x1="281.5" y1="304.4" x2="284.5" y2="304.4" stroke="#505050" stroke-width="1" />
<text transform="translate(277.2,308.8) scale(1.08,1)" font-size="10.5" text-anchor="end" fill="#1a1a1a">10<tspan font-size="5.9" dy="-6.4">-10</tspan></text>
<line x1="281.5" y1="289.35" x2="284.5" y2="289.35" stroke="#505050" stroke-width="1" />
<text transform="translate(277.2,293.75) scale(1.08,1)" font-size="10.5" text-anchor="end" fill="#1a1a1a">10<tspan font-size="5.9" dy="-6.4">-9</tspan></text>
<line x1="281.5" y1="274.3" x2="284.5" y2="274.3" stroke="#505050" stroke-width="1" />
<text transform="translate(277.2,278.7) scale(1.08,1)" font-size="10.5" text-anchor="end" fill="#1a1a1a">10<tspan font-size="5.9" dy="-6.4">-8</tspan></text>
<text transform="translate(359,384)" font-size="11.3" text-anchor="middle" fill="#000" font-weight="bold" >Number of cycles<tspan font-size="7.3" dy="2.5"></tspan><tspan dy="-2.5"></tspan></text>
<text transform="translate(258.3,238.2) rotate(-90)" font-size="11.3" text-anchor="middle" fill="#000" font-weight="bold" >V<tspan font-size="7.3" dy="2.5">GS</tspan><tspan dy="-2.5"> (V)</tspan></text>
<text transform="translate(246.4,308.6) rotate(-90)" font-size="11.3" text-anchor="middle" fill="#000" font-weight="bold" >I<tspan font-size="7.3" dy="2.5">D</tspan><tspan dy="-2.5"> (A)</tspan></text>
<defs><clipPath id="cpf"><rect x="523.2" y="211.6" width="157.2" height="138.7"/></clipPath></defs>
<g clip-path="url(#cpf)">
<line x1="523.2" y1="232.1" x2="680.4" y2="232.1" stroke="#222" stroke-width="1.1" />
<line x1="523" y1="232.1" x2="523" y2="248" stroke="#3a3a3a" stroke-width="0.95" />
<rect x="520.7" y="248" width="4.6" height="4.6" fill="none" stroke="#e3193d" stroke-width="1.05"/>
<line x1="533.5" y1="232.1" x2="533.5" y2="224.3" stroke="#3a3a3a" stroke-width="0.95" />
<path d="M533.5,225.64 L536.8,219.83 L530.2,219.83 Z" fill="none" stroke="#36aea2" stroke-width="1.05" stroke-linejoin="miter"/>
<line x1="544" y1="232.1" x2="544" y2="221.7" stroke="#3a3a3a" stroke-width="0.95" />
<path d="M544,215.9 L547.2,219.1 L544,222.3 L540.8,219.1 Z" fill="none" stroke="#2462a4" stroke-width="1.05" stroke-linejoin="miter"/>
<line x1="554.5" y1="232.1" x2="554.5" y2="219.1" stroke="#3a3a3a" stroke-width="0.95" />
<path d="M551.26,216.5 L556.89,213.3 L556.89,219.7 Z" fill="none" stroke="#a23fe6" stroke-width="1.05" stroke-linejoin="miter"/>
<line x1="565" y1="232.1" x2="565" y2="216.5" stroke="#3a3a3a" stroke-width="0.95" />
<path d="M568.34,213.9 L562.53,210.6 L562.53,217.2 Z" fill="none" stroke="#000" stroke-width="1.05" stroke-linejoin="miter"/>
<line x1="575.5" y1="232.1" x2="575.5" y2="248" stroke="#3a3a3a" stroke-width="0.95" />
<rect x="573.2" y="248" width="4.6" height="4.6" fill="none" stroke="#e3193d" stroke-width="1.05"/>
<line x1="586" y1="232.1" x2="586" y2="221.7" stroke="#3a3a3a" stroke-width="0.95" />
<path d="M586,215.9 L589.2,219.1 L586,222.3 L582.8,219.1 Z" fill="none" stroke="#2462a4" stroke-width="1.05" stroke-linejoin="miter"/>
<line x1="596.5" y1="232.1" x2="596.5" y2="219.1" stroke="#3a3a3a" stroke-width="0.95" />
<path d="M593.26,216.5 L598.89,213.3 L598.89,219.7 Z" fill="none" stroke="#a23fe6" stroke-width="1.05" stroke-linejoin="miter"/>
<line x1="607" y1="232.1" x2="607" y2="248" stroke="#3a3a3a" stroke-width="0.95" />
<rect x="604.7" y="248" width="4.6" height="4.6" fill="none" stroke="#e3193d" stroke-width="1.05"/>
<line x1="617.5" y1="232.1" x2="617.5" y2="219.1" stroke="#3a3a3a" stroke-width="0.95" />
<path d="M614.26,216.5 L619.89,213.3 L619.89,219.7 Z" fill="none" stroke="#a23fe6" stroke-width="1.05" stroke-linejoin="miter"/>
<line x1="628" y1="232.1" x2="628" y2="216.5" stroke="#3a3a3a" stroke-width="0.95" />
<path d="M631.34,213.9 L625.53,210.6 L625.53,217.2 Z" fill="none" stroke="#000" stroke-width="1.05" stroke-linejoin="miter"/>
<line x1="638.5" y1="232.1" x2="638.5" y2="248" stroke="#3a3a3a" stroke-width="0.95" />
<rect x="636.2" y="248" width="4.6" height="4.6" fill="none" stroke="#e3193d" stroke-width="1.05"/>
<line x1="649" y1="232.1" x2="649" y2="224.3" stroke="#3a3a3a" stroke-width="0.95" />
<path d="M649,225.64 L652.3,219.83 L645.7,219.83 Z" fill="none" stroke="#36aea2" stroke-width="1.05" stroke-linejoin="miter"/>
<line x1="659.5" y1="232.1" x2="659.5" y2="216.5" stroke="#3a3a3a" stroke-width="0.95" />
<path d="M662.84,213.9 L657.03,210.6 L657.03,217.2 Z" fill="none" stroke="#000" stroke-width="1.05" stroke-linejoin="miter"/>
<line x1="670" y1="232.1" x2="670" y2="248" stroke="#3a3a3a" stroke-width="0.95" />
<rect x="667.7" y="248" width="4.6" height="4.6" fill="none" stroke="#e3193d" stroke-width="1.05"/>
<line x1="523.2" y1="273.9" x2="680.4" y2="273.9" stroke="#e0243f" stroke-width="1.1" stroke-dasharray="1.1 1.1"/>
<line x1="523.2" y1="286.3" x2="680.4" y2="286.3" stroke="#2fa89b" stroke-width="1.1" stroke-dasharray="1.1 1.1"/>
<line x1="523.2" y1="298.2" x2="680.4" y2="298.2" stroke="#2f6fb0" stroke-width="1.1" stroke-dasharray="1.1 1.1"/>
<line x1="523.2" y1="310.3" x2="680.4" y2="310.3" stroke="#9b3de6" stroke-width="1.1" stroke-dasharray="1.1 1.1"/>
<line x1="523.2" y1="328.9" x2="680.4" y2="328.9" stroke="#111" stroke-width="1.1" stroke-dasharray="1.1 1.1"/>
<path d="M523,275.6 L532.5,275.8 L532.5,288 L543.2,286.4 L543.2,301.4 L553.6,300.3 L553.6,317.6 L564.1,314.9 L564.1,345.6 L565.5,342.5 L567.6,338.8 L570,336 L572.2,334 L575.2,331.6 L575.2,274.8 L585.7,275.1 L585.7,297.5 L596,296.2 L596,314.8 L606.6,311.7 L606.6,275.1 L616.9,275.3 L616.9,309.1 L627.2,307.8 L627.2,337 L629,333.5 L631.5,330 L634.5,327.5 L638.3,324.6 L638.3,273.8 L648.4,274 L648.4,287.2 L652,286.6 L653.5,287 L656,286 L658.9,285.9 L658.9,327.2 L661,325 L664,323 L669.7,320.7 L669.7,273.8 L681,274.2" fill="none" stroke="#111" stroke-width="1.5" stroke-linejoin="round" stroke-linecap="round" stroke-linejoin="miter" stroke-linecap="butt"/>
</g>
<text transform="translate(526.8,272.3)" font-size="10.3" text-anchor="start" fill="#d81f40" font-weight="normal" >ID7</text>
<text transform="translate(537.3,283.9)" font-size="10.3" text-anchor="start" fill="#3aaea3" font-weight="normal" >ID4</text>
<text transform="translate(548.9,295.5)" font-size="10.3" text-anchor="start" fill="#2f68ac" font-weight="normal" >ID3</text>
<text transform="translate(557,307.9)" font-size="10.3" text-anchor="start" fill="#9d3fe2" font-weight="normal" >ID2</text>
<text transform="translate(576.7,326.5)" font-size="10.3" text-anchor="start" fill="#111" font-weight="normal" >ID1</text>
<text transform="translate(566.9,267.4)" font-size="9.3" text-anchor="start" fill="#1a1a1a" font-weight="normal" >READ: V<tspan font-size="6.3" dy="2.2">GS</tspan><tspan dy="-2.2">=0 V, V</tspan><tspan font-size="6.3" dy="2.2">DS</tspan><tspan dy="-2.2">=0.1 V</tspan></text>
<rect x="523.2" y="211.6" width="157.2" height="138.7" fill="none" stroke="#7c7c7c" stroke-width="1.45"/>
<line x1="523.2" y1="254.6" x2="680.4" y2="254.6" stroke="#333" stroke-width="1.3" />
<text transform="translate(518.9,217.3) scale(1.08,1)" font-size="10.5" text-anchor="end" fill="#1a1a1a" font-weight="normal" >8</text>
<text transform="translate(518.9,237.4) scale(1.08,1)" font-size="10.5" text-anchor="end" fill="#1a1a1a" font-weight="normal" >0</text>
<text transform="translate(518.9,258) scale(1.08,1)" font-size="10.5" text-anchor="end" fill="#1a1a1a" font-weight="normal" >-8</text>
<line x1="523.2" y1="216.5" x2="525.6" y2="216.5" stroke="#505050" stroke-width="0.9" />
<line x1="523.2" y1="221.7" x2="525.6" y2="221.7" stroke="#505050" stroke-width="0.9" />
<line x1="523.2" y1="226.9" x2="525.6" y2="226.9" stroke="#505050" stroke-width="0.9" />
<line x1="523.2" y1="237.3" x2="525.6" y2="237.3" stroke="#505050" stroke-width="0.9" />
<line x1="523.2" y1="242.5" x2="525.6" y2="242.5" stroke="#505050" stroke-width="0.9" />
<line x1="523.2" y1="247.7" x2="525.6" y2="247.7" stroke="#505050" stroke-width="0.9" />
<line x1="523.2" y1="211.3" x2="526.4" y2="211.3" stroke="#505050" stroke-width="1" />
<line x1="523.2" y1="232.1" x2="526.4" y2="232.1" stroke="#505050" stroke-width="1" />
<line x1="523.2" y1="252.9" x2="526.4" y2="252.9" stroke="#505050" stroke-width="1" />
<line x1="523.7" y1="350.3" x2="523.7" y2="347.3" stroke="#505050" stroke-width="1" />
<line x1="523.7" y1="254.6" x2="523.7" y2="252" stroke="#505050" stroke-width="0.9" />
<line x1="533.63" y1="350.3" x2="533.63" y2="347.3" stroke="#505050" stroke-width="1" />
<line x1="533.63" y1="254.6" x2="533.63" y2="252" stroke="#505050" stroke-width="0.9" />
<line x1="543.56" y1="350.3" x2="543.56" y2="347.3" stroke="#505050" stroke-width="1" />
<line x1="543.56" y1="254.6" x2="543.56" y2="252" stroke="#505050" stroke-width="0.9" />
<line x1="553.49" y1="350.3" x2="553.49" y2="347.3" stroke="#505050" stroke-width="1" />
<line x1="553.49" y1="254.6" x2="553.49" y2="252" stroke="#505050" stroke-width="0.9" />
<line x1="563.42" y1="350.3" x2="563.42" y2="347.3" stroke="#505050" stroke-width="1" />
<line x1="563.42" y1="254.6" x2="563.42" y2="252" stroke="#505050" stroke-width="0.9" />
<line x1="573.35" y1="350.3" x2="573.35" y2="347.3" stroke="#505050" stroke-width="1" />
<line x1="573.35" y1="254.6" x2="573.35" y2="252" stroke="#505050" stroke-width="0.9" />
<line x1="583.28" y1="350.3" x2="583.28" y2="347.3" stroke="#505050" stroke-width="1" />
<line x1="583.28" y1="254.6" x2="583.28" y2="252" stroke="#505050" stroke-width="0.9" />
<line x1="593.21" y1="350.3" x2="593.21" y2="347.3" stroke="#505050" stroke-width="1" />
<line x1="593.21" y1="254.6" x2="593.21" y2="252" stroke="#505050" stroke-width="0.9" />
<line x1="603.14" y1="350.3" x2="603.14" y2="347.3" stroke="#505050" stroke-width="1" />
<line x1="603.14" y1="254.6" x2="603.14" y2="252" stroke="#505050" stroke-width="0.9" />
<line x1="613.07" y1="350.3" x2="613.07" y2="347.3" stroke="#505050" stroke-width="1" />
<line x1="613.07" y1="254.6" x2="613.07" y2="252" stroke="#505050" stroke-width="0.9" />
<line x1="623" y1="350.3" x2="623" y2="347.3" stroke="#505050" stroke-width="1" />
<line x1="623" y1="254.6" x2="623" y2="252" stroke="#505050" stroke-width="0.9" />
<line x1="632.93" y1="350.3" x2="632.93" y2="347.3" stroke="#505050" stroke-width="1" />
<line x1="632.93" y1="254.6" x2="632.93" y2="252" stroke="#505050" stroke-width="0.9" />
<line x1="642.86" y1="350.3" x2="642.86" y2="347.3" stroke="#505050" stroke-width="1" />
<line x1="642.86" y1="254.6" x2="642.86" y2="252" stroke="#505050" stroke-width="0.9" />
<line x1="652.79" y1="350.3" x2="652.79" y2="347.3" stroke="#505050" stroke-width="1" />
<line x1="652.79" y1="254.6" x2="652.79" y2="252" stroke="#505050" stroke-width="0.9" />
<line x1="662.72" y1="350.3" x2="662.72" y2="347.3" stroke="#505050" stroke-width="1" />
<line x1="662.72" y1="254.6" x2="662.72" y2="252" stroke="#505050" stroke-width="0.9" />
<line x1="672.65" y1="350.3" x2="672.65" y2="347.3" stroke="#505050" stroke-width="1" />
<line x1="672.65" y1="254.6" x2="672.65" y2="252" stroke="#505050" stroke-width="0.9" />
<text transform="translate(522.7,364.2) scale(1.08,1)" font-size="10.5" text-anchor="middle" fill="#1a1a1a" font-weight="normal" >0</text>
<text transform="translate(552.5,364.2) scale(1.08,1)" font-size="10.5" text-anchor="middle" fill="#1a1a1a" font-weight="normal" >200</text>
<text transform="translate(582.3,364.2) scale(1.08,1)" font-size="10.5" text-anchor="middle" fill="#1a1a1a" font-weight="normal" >400</text>
<text transform="translate(612.1,364.2) scale(1.08,1)" font-size="10.5" text-anchor="middle" fill="#1a1a1a" font-weight="normal" >600</text>
<text transform="translate(641.9,364.2) scale(1.08,1)" font-size="10.5" text-anchor="middle" fill="#1a1a1a" font-weight="normal" >800</text>
<text transform="translate(671.7,364.2) scale(1.08,1)" font-size="10.5" text-anchor="middle" fill="#1a1a1a" font-weight="normal" >1000</text>
<line x1="523.2" y1="350.32" x2="526.2" y2="350.32" stroke="#505050" stroke-width="1" />
<text transform="translate(519,354.72) scale(1.08,1)" font-size="10.5" text-anchor="end" fill="#1a1a1a">10<tspan font-size="5.9" dy="-6.4">-13</tspan></text>
<line x1="523.2" y1="336.75" x2="526.2" y2="336.75" stroke="#505050" stroke-width="1" />
<text transform="translate(519,341.15) scale(1.08,1)" font-size="10.5" text-anchor="end" fill="#1a1a1a">10<tspan font-size="5.9" dy="-6.4">-12</tspan></text>
<line x1="523.2" y1="323.18" x2="526.2" y2="323.18" stroke="#505050" stroke-width="1" />
<text transform="translate(519,327.58) scale(1.08,1)" font-size="10.5" text-anchor="end" fill="#1a1a1a">10<tspan font-size="5.9" dy="-6.4">-11</tspan></text>
<line x1="523.2" y1="309.61" x2="526.2" y2="309.61" stroke="#505050" stroke-width="1" />
<text transform="translate(519,314.01) scale(1.08,1)" font-size="10.5" text-anchor="end" fill="#1a1a1a">10<tspan font-size="5.9" dy="-6.4">-10</tspan></text>
<line x1="523.2" y1="296.04" x2="526.2" y2="296.04" stroke="#505050" stroke-width="1" />
<text transform="translate(519,300.44) scale(1.08,1)" font-size="10.5" text-anchor="end" fill="#1a1a1a">10<tspan font-size="5.9" dy="-6.4">-9</tspan></text>
<line x1="523.2" y1="282.47" x2="526.2" y2="282.47" stroke="#505050" stroke-width="1" />
<text transform="translate(519,286.87) scale(1.08,1)" font-size="10.5" text-anchor="end" fill="#1a1a1a">10<tspan font-size="5.9" dy="-6.4">-8</tspan></text>
<line x1="523.2" y1="268.9" x2="526.2" y2="268.9" stroke="#505050" stroke-width="1" />
<text transform="translate(519,273.3) scale(1.08,1)" font-size="10.5" text-anchor="end" fill="#1a1a1a">10<tspan font-size="5.9" dy="-6.4">-7</tspan></text>
<text transform="translate(601.5,384)" font-size="11.3" text-anchor="middle" fill="#000" font-weight="bold" >Time (s)<tspan font-size="7.3" dy="2.5"></tspan><tspan dy="-2.5"></tspan></text>
<text transform="translate(498.6,233.6) rotate(-90)" font-size="11.3" text-anchor="middle" fill="#000" font-weight="bold" >V<tspan font-size="7.3" dy="2.5">GS</tspan><tspan dy="-2.5"> (V)</tspan></text>
<text transform="translate(487.8,304.8) rotate(-90)" font-size="11.3" text-anchor="middle" fill="#000" font-weight="bold" >I<tspan font-size="7.3" dy="2.5">D</tspan><tspan dy="-2.5"> (A)</tspan></text>
</svg></body></html>
